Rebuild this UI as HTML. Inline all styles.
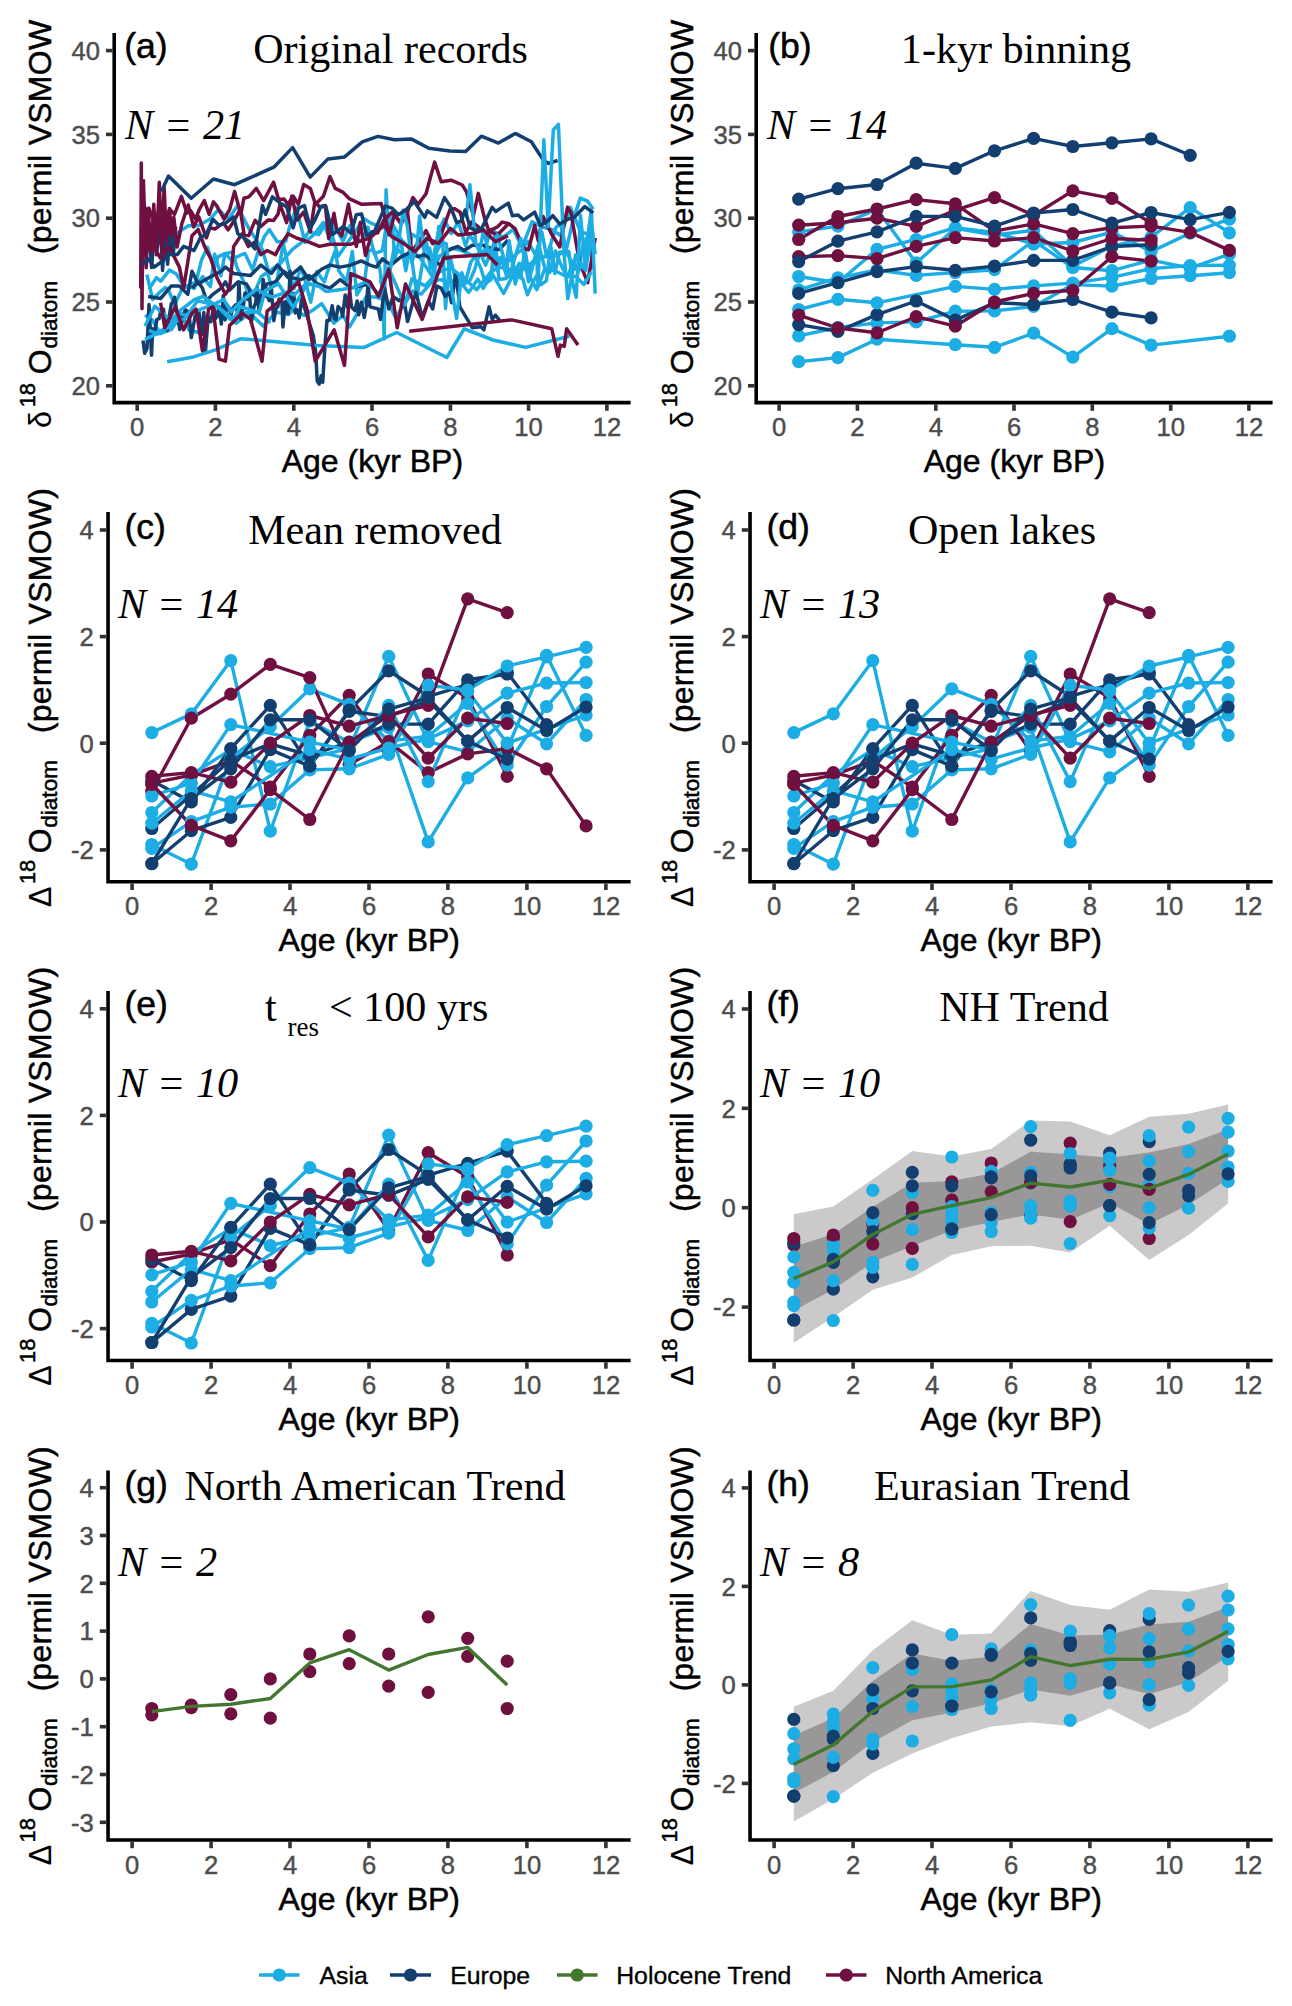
<!DOCTYPE html>
<html><head><meta charset="utf-8"><title>Diatom oxygen isotope records</title>
<style>
html,body{margin:0;padding:0;background:#fff}
svg{display:block}
.tk{font-family:"Liberation Sans", Arial, Helvetica, sans-serif;font-size:25.6px;fill:#4d4d4d;stroke:#4d4d4d;stroke-width:0.45px}
.at{font-family:"Liberation Sans", Arial, Helvetica, sans-serif;font-size:32px;fill:#000;stroke:#000;stroke-width:0.5px}
.ss{font-size:22.6px}
.sy{stroke-width:0.1px;font-size:30.5px}
.sp{font-size:21.8px}
.lb{font-family:"Liberation Sans", Arial, Helvetica, sans-serif;font-size:35.6px;fill:#000;stroke:#000;stroke-width:0.5px}
.tt{font-family:"Liberation Serif", "Times New Roman", serif;font-size:42.1px;fill:#000}
.nn{font-family:"Liberation Serif", "Times New Roman", serif;font-size:42.3px;font-style:italic;fill:#000}
.lg{font-family:"Liberation Sans", Arial, Helvetica, sans-serif;font-size:24.8px;fill:#000;stroke:#000;stroke-width:0.35px}
</style></head><body>
<svg width="1292" height="2006" viewBox="0 0 1292 2006">
<rect width="1292" height="2006" fill="#fff"/>
<polyline points="148.9,244.3 161.0,233.2 167.2,231.7 176.6,233.3 188.5,225.8 198.1,225.8 209.7,219.3 218.4,209.6 228.5,219.0 237.5,205.7 248.4,227.8 262.4,249.6 268.7,271.8 281.5,262.1 292.4,249.3 302.2,241.9 308.8,231.7 318.6,234.7 328.0,220.1 338.1,256.3 349.1,240.6 363.9,218.6 370.3,222.8 382.7,227.9 391.1,221.7 401.4,239.8 414.1,252.7 419.3,256.6 431.5,275.2 439.7,255.9 452.1,248.3 460.8,250.2 472.3,255.4 483.1,253.2 491.5,229.7 503.1,237.2 513.3,229.4 522.1,247.1 532.1,221.7 542.1,227.0 552.3,229.6 560.5,235.5 570.4,207.4 580.7,232.1 593.2,235.2" fill="none" stroke="#1CADE4" stroke-width="3.5" stroke-linejoin="round" stroke-linecap="butt"/>
<polyline points="146.9,274.7 152.7,299.6 159.2,292.8 165.2,287.6 168.0,289.0 174.7,304.8 182.5,287.6 186.8,287.3 191.8,283.2 198.2,282.6 202.8,276.7 210.4,286.5 214.6,253.9 220.9,275.8 224.9,253.9 232.7,251.9 236.9,267.3 244.9,284.0 248.8,296.3 255.7,289.9 261.4,276.4 267.5,272.2 270.6,283.8 277.0,281.1 283.2,243.2 289.5,271.3 293.9,288.6 301.0,267.1 306.5,285.3 310.7,302.2 316.8,271.6 324.3,282.0 327.4,272.1 335.2,251.0 338.7,270.7 346.6,281.2 352.3,251.5 356.9,294.9 364.5,282.2 368.4,251.4 373.2,249.0 379.9,269.0 382.6,293.6 384.2,338.9 386.1,189.7 388.5,235.0 391.6,214.8 394.8,258.4 397.5,249.2 403.6,255.2 407.3,258.1 410.9,252.8 416.9,296.1 422.6,262.8 425.9,238.3 430.5,269.1 437.2,250.8 442.6,240.1 445.5,308.5 450.0,256.9 456.5,283.3 461.9,272.8 465.2,283.0 470.8,262.0 475.4,256.3 481.1,268.9 485.5,283.7 491.0,279.7 494.8,236.0 499.0,279.6 506.2,278.6 508.9,244.2 515.7,275.2 520.6,277.9 524.9,249.3 528.7,272.5 533.3,262.8 539.8,249.1 545.6,270.8 549.7,272.6 555.4,251.0 560.0,262.4 563.1,269.3 567.8,276.9 573.2,261.2 578.6,271.6 582.9,245.0 588.4,234.9 593.2,269.3" fill="none" stroke="#1CADE4" stroke-width="3.5" stroke-linejoin="round" stroke-linecap="butt"/>
<polyline points="143.0,228.3 148.9,208.1 154.8,224.9 160.6,203.1 164.6,221.6 169.6,209.3 174.5,214.3 181.4,196.4 186.9,213.0 190.6,210.7 195.6,219.2 199.3,209.3 204.3,200.6 209.2,214.3 213.5,201.9 216.6,205.6 224.1,219.2 229.7,209.3 234.6,191.4 240.8,214.3 243.9,198.3 248.8,196.9 256.3,188.4 263.7,200.6 273.6,182.2 278.6,199.4 284.0,198.9 287.9,204.3 293.2,196.2 298.4,204.3 303.7,184.5 310.3,188.4 315.5,204.3 323.4,196.2 330.0,176.6 335.2,188.4 343.2,192.4 349.7,198.9 361.6,204.3 381.3,203.6 385.3,218.7 391.9,212.2 401.1,222.6 406.3,214.7 412.9,197.6 418.2,204.3 426.0,193.7 434.6,162.1 441.2,181.8 451.1,180.2 462.3,185.0 466.5,191.9 473.4,215.7 478.3,193.4 484.6,218.4 488.8,230.9 497.3,235.0 509.1,223.2" fill="none" stroke="#6F1041" stroke-width="3.5" stroke-linejoin="round" stroke-linecap="butt"/>
<polyline points="148.9,289.2 156.4,277.7 160.8,281.1 169.4,270.1 176.4,274.1 182.9,284.7 187.4,285.8 194.4,288.4 201.4,260.4 207.4,247.2 214.1,267.8 218.0,256.8 225.4,253.3 231.0,259.8 240.4,255.2 245.0,253.5 252.6,269.7 257.5,253.8 264.2,236.8 269.4,229.6 277.2,241.7 285.8,241.2 289.5,227.3 296.3,207.5 305.0,242.4 308.1,239.5 314.7,233.9 323.3,222.6 330.6,241.2 333.8,225.0 343.0,241.1 349.7,225.9 353.4,237.5 362.0,241.1 367.9,227.0 374.2,253.8 382.4,250.6 385.3,232.5 392.7,233.7 400.8,240.7 405.8,270.8 412.1,234.3 420.1,239.0 427.4,247.6 431.3,267.7 438.5,231.6 444.2,219.1 451.1,233.6 458.4,221.9 465.5,245.7 469.3,234.4 478.0,247.9 484.0,256.1 488.8,248.3 495.1,257.8 502.1,258.4 508.2,261.1 517.6,252.9 523.1,248.8 527.9,241.3 535.5,254.9 541.9,232.3 546.6,256.9 555.9,227.5 560.7,223.9 566.2,250.4 572.8,221.1 580.3,198.1 587.6,201.2 593.2,209.3" fill="none" stroke="#1CADE4" stroke-width="3.5" stroke-linejoin="round" stroke-linecap="butt"/>
<polyline points="141.1,229.4 144.7,253.6 148.5,222.7 151.6,267.6 154.6,227.5 156.9,250.4 160.3,223.9 162.6,270.5 165.1,224.5 167.6,264.2 170.7,219.9 173.2,255.5 175.7,226.7" fill="none" stroke="#123F6F" stroke-width="3.5" stroke-linejoin="round" stroke-linecap="butt"/>
<polyline points="143.4,179.3 146.2,267.8 148.2,210.0 151.2,252.0 153.8,204.3 156.4,254.8 159.3,182.3 161.9,250.9 164.1,187.2 166.6,242.1 169.5,208.5 171.5,235.7 173.8,217.1 177.1,247.1 181.9,223.5 188.2,205.0 193.6,226.9 198.8,216.8 206.3,237.8 209.8,227.8 214.9,229.0 223.4,222.9 228.1,229.8 233.2,222.3 240.2,209.5 244.1,234.3 248.7,235.7 255.2,220.2 260.2,226.8 268.3,219.9 273.6,220.5 278.1,214.0 280.0,204.3 286.6,222.6 291.8,196.2 297.1,220.0 303.7,212.2 310.3,231.8 314.9,201.6 319.5,206.8 325.4,205.5 328.7,238.5 334.0,213.3 336.6,229.3 341.8,235.8 348.4,204.3 351.1,218.7 356.3,246.4 360.3,222.6 365.5,255.6 372.1,231.8 377.4,233.1 385.3,217.4 389.2,234.5 394.5,214.7 401.1,223.9 407.6,212.2 411.6,251.6 419.5,241.0 426.0,230.6 432.6,243.7 439.2,239.8 450.0,209.5 454.3,208.6 460.2,212.2 465.8,232.3 471.7,221.9 477.9,226.4 485.8,235.4 489.5,230.6 497.3,227.0 502.3,222.1 509.1,223.8 515.2,228.9 523.6,248.4 528.5,249.7 534.7,225.4 538.2,240.7 543.1,216.4 551.4,233.8 559.8,247.0 567.5,207.3 571.0,212.8 579.3,261.6 587.7,282.6 595.3,238.0" fill="none" stroke="#6F1041" stroke-width="3.5" stroke-linejoin="round" stroke-linecap="butt"/>
<polyline points="140.7,288.6 141.3,162.9 142.0,308.7 143.0,201.4 144.2,248.4 145.4,208.1 146.9,253.4" fill="none" stroke="#6F1041" stroke-width="3.5" stroke-linejoin="round" stroke-linecap="butt"/>
<polyline points="148.1,296.5 160.6,298.5 171.1,286.1 179.4,286.1 187.8,294.3 192.0,271.3 198.2,283.9 208.7,277.7 221.2,271.3 225.4,267.1 233.7,273.5 250.5,275.5 260.9,265.1 271.4,273.5 277.6,265.1 288.1,277.7 300.6,267.1 309.0,279.7 321.5,269.3 329.9,265.1 340.3,267.1 350.8,265.1 361.2,260.9 370.0,265.1 376.3,267.1 382.5,258.8 390.9,265.1 401.3,256.7 409.7,252.6 418.1,256.7 424.4,254.6 432.7,260.9 441.1,265.1 447.3,250.5 457.8,246.4 464.1,250.5 472.4,245.2 482.8,245.2 491.2,248.4 499.6,249.4 507.9,240.0" fill="none" stroke="#123F6F" stroke-width="3.5" stroke-linejoin="round" stroke-linecap="butt"/>
<polyline points="161.4,191.4 168.5,176.0 191.2,198.3 213.5,179.0 234.6,184.7 273.8,167.2 292.6,147.6 310.2,177.1 328.0,158.9 344.6,156.9 362.3,141.8 377.9,136.4 394.4,139.8 411.6,139.1 428.8,148.3 450.0,151.0 465.6,151.5 481.3,136.2 498.5,143.1 515.3,133.4 531.4,141.8 543.1,159.9 548.6,163.4 557.6,160.5" fill="none" stroke="#123F6F" stroke-width="3.5" stroke-linejoin="round" stroke-linecap="butt"/>
<polyline points="466.0,218.2 469.9,184.7 475.8,243.3 485.6,265.1 497.3,235.0 509.1,276.9 520.8,238.3 528.6,281.9 536.5,251.7 538.0,285.2 543.9,139.8 548.2,226.6 553.3,130.0 558.4,124.3 563.9,251.7 567.8,298.6 575.6,255.1 583.5,268.5 591.3,209.8 595.2,293.6" fill="none" stroke="#1CADE4" stroke-width="3.5" stroke-linejoin="round" stroke-linecap="butt"/>
<polyline points="145.0,315.1 152.3,320.0 160.3,333.6 171.6,329.3 181.8,314.1 189.2,330.2 198.5,332.5 204.9,318.3 216.3,316.6 227.6,316.3 236.1,323.3 244.4,317.1 250.1,313.5 263.1,326.1 271.8,316.8 277.1,312.2 288.5,314.6 294.2,308.5 303.7,315.4 313.6,309.7 321.7,303.6 333.8,323.2 343.0,315.5 349.5,326.9 358.3,311.8 366.1,296.8 374.9,296.9 387.1,300.5 395.4,317.3 401.5,308.8 412.7,291.0 421.2,294.1 432.4,281.3 440.7,279.6 449.0,282.7 457.7,278.7 468.6,292.4 477.8,279.3 483.3,288.3 491.8,272.8 503.6,293.5 508.7,283.4 519.2,263.4 526.6,270.9 536.8,289.6 544.4,269.9 554.5,270.5 566.0,276.3 575.5,276.2 583.9,284.5 591.3,272.2" fill="none" stroke="#1CADE4" stroke-width="3.5" stroke-linejoin="round" stroke-linecap="butt"/>
<polyline points="143.0,340.4 144.7,353.2 147.0,348.5 149.0,304.5 151.5,355.2 152.7,328.8 154.9,331.2 156.8,319.6 159.3,318.5 160.8,310.0 163.5,309.3 164.5,317.0 167.2,330.4 169.5,315.0 171.4,303.4 172.8,302.8 174.6,297.2 177.5,315.5 179.7,329.6 181.4,323.8 182.9,315.7 185.5,309.8 187.4,311.4 189.1,314.4 191.3,337.6 193.1,327.5 195.3,315.4 197.5,317.5 198.8,310.9 201.7,334.7 203.8,312.4 205.4,351.8 207.6,324.5 208.7,317.6 210.9,321.7 213.7,306.3 215.6,318.4 217.3,315.0 218.9,306.5 221.3,324.1 223.3,295.4 225.1,319.9 226.8,304.6 229.3,308.3 230.9,315.2 232.8,308.3 235.6,304.9 237.8,313.5 238.9,281.9 240.9,319.1 243.3,306.6 245.0,292.9 247.7,299.5 249.5,292.3 251.3,322.5 254.0,306.6 255.7,302.9 257.1,288.3 259.0,312.2 261.5,302.6 263.2,279.4 265.9,296.3 267.0,295.4 269.2,300.7 271.1,285.5 273.8,320.7 275.9,308.8 277.8,306.6 279.1,299.0 281.9,301.5 282.9,326.9 285.4,301.4 288.1,313.8 290.1,271.3 291.0,308.0 293.8,293.4 295.2,312.9 297.6,310.1 299.3,317.9 301.6,298.8 313.3,335.5 315.7,352.3 317.2,380.8 319.2,384.1 321.2,375.7 322.7,382.4 325.1,343.9 327.0,320.5 329.3,320.4 332.2,305.8 334.2,318.2 335.9,319.7 338.1,306.5 341.0,309.2 342.6,316.4 345.2,295.0 347.7,307.5 349.8,291.7 351.5,306.9 354.9,310.7 357.2,301.0 358.7,314.8 361.4,302.3 364.2,317.5 366.3,306.5 368.1,283.0 370.0,306.9 378.4,309.0 380.5,319.4 384.6,288.1 388.8,309.0 393.0,296.5 399.3,300.7 403.4,296.5 407.6,321.6 413.9,298.5 416.0,292.3 422.2,317.4 428.5,300.7 432.7,309.0 436.9,286.1 441.1,288.1 445.2,296.5 449.4,292.3 451.5,302.7 453.6,288.1 455.7,273.5 459.9,306.9 472.4,327.8 480.8,326.8 483.9,329.8 489.1,306.9 492.2,319.4 495.4,315.2 500.6,321.6" fill="none" stroke="#123F6F" stroke-width="3.5" stroke-linejoin="round" stroke-linecap="butt"/>
<polyline points="192.0,288.1 198.2,281.9 202.4,288.1 206.6,300.7 212.9,294.3 221.2,288.1 225.4,281.9 229.6,290.1 237.9,281.9 246.3,283.9 252.6,294.3 258.8,298.5 267.2,283.9 275.5,281.9 283.9,271.3 292.3,277.7 300.6,279.7 309.0,275.5 317.4,283.9 329.9,288.1 340.3,279.7 350.8,288.1 370.0,283.9" fill="none" stroke="#123F6F" stroke-width="3.5" stroke-linejoin="round" stroke-linecap="butt"/>
<polyline points="145.0,326.1 154.8,306.2 171.2,320.5 180.2,310.4 194.4,299.7 203.0,296.3 221.7,309.8 233.8,319.6 240.0,306.5 258.8,312.5 265.3,290.6 278.6,283.8 293.2,307.5 307.9,283.1 319.5,286.5 325.8,291.4 341.7,289.5 354.3,287.3 366.1,281.7 380.4,295.2 388.4,267.7 404.9,305.0 412.0,278.8 425.1,285.9 437.2,272.7 450.9,267.8 465.7,279.8 476.6,289.7 491.3,271.4 499.9,267.4 515.3,270.7 527.4,266.4 537.0,258.2 549.3,255.7 566.2,252.2 576.0,269.3 587.4,263.8" fill="none" stroke="#1CADE4" stroke-width="3.5" stroke-linejoin="round" stroke-linecap="butt"/>
<polyline points="148.9,330.3 157.8,333.9 170.1,326.1 180.8,313.7 188.3,316.3 200.7,309.2 210.4,305.8 223.7,299.5 231.1,311.9 241.1,301.4 256.7,288.9 265.0,294.4 272.7,296.8 287.0,292.0 294.2,294.9 305.3,284.2 317.2,284.9" fill="none" stroke="#1CADE4" stroke-width="3.5" stroke-linejoin="round" stroke-linecap="butt"/>
<polyline points="145.0,339.3 157.5,333.3 173.0,322.4 184.6,318.7 197.6,300.8 216.6,305.3 229.6,318.9 243.4,313.1 256.9,311.7 270.3,322.8" fill="none" stroke="#1CADE4" stroke-width="3.5" stroke-linejoin="round" stroke-linecap="butt"/>
<polyline points="379.9,283.1 384.8,275.2 388.9,276.8 394.3,247.1 397.0,252.6 403.2,209.9 407.4,226.1 411.7,262.4 417.0,245.9 419.6,216.1 423.5,248.9 429.6,248.0 434.6,272.8 438.8,226.4 441.4,243.1 446.2,243.6 451.1,286.1 456.6,318.4 461.6,273.8 464.3,283.9 470.0,280.4 474.6,269.8 478.2,257.7 483.8,229.8 488.4,252.6 491.2,252.0 497.7,271.0 500.9,257.4 505.9,273.8 509.2,240.8 515.3,284.1 518.5,271.1 522.9,279.4 527.4,294.7 533.2,281.7 537.0,275.0 540.6,284.8 546.4,280.9 550.7,246.1 554.9,273.5 559.5,251.9 562.5,252.0 568.8,251.4 572.9,284.0 576.2,297.4 580.5,215.4 585.7,270.6 592.0,226.8 595.2,254.2" fill="none" stroke="#1CADE4" stroke-width="3.5" stroke-linejoin="round" stroke-linecap="butt"/>
<polyline points="167.1,361.7 192.0,357.3 215.4,349.8 236.6,340.5 241.3,338.7 317.2,345.6 364.2,347.4 396.7,332.5 446.8,357.5 464.2,328.8 493.0,340.0 525.5,347.4 569.4,336.2" fill="none" stroke="#1CADE4" stroke-width="3.5" stroke-linejoin="round" stroke-linecap="butt"/>
<polyline points="143.0,253.4 152.8,245.0 160.6,258.4 169.0,246.4 179.4,267.1 183.6,288.1 192.0,235.8 198.2,229.6 204.5,246.4 210.8,258.8 217.0,277.7 225.4,294.3 229.6,288.1 233.7,246.4 242.1,233.8 248.4,246.4 254.6,242.2 260.9,254.6 267.2,250.5 275.5,254.6 279.7,246.4 288.1,233.8 296.5,238.0 309.0,242.2 319.4,246.4 329.9,244.2 350.8,244.2 370.0,238.0 383.8,224.9 391.6,236.6 403.4,243.3 415.1,251.7 426.9,238.3 438.6,243.3 450.4,228.3 458.2,235.0 473.8,233.3 483.6,229.9 495.4,241.7 507.9,235.8" fill="none" stroke="#6F1041" stroke-width="3.5" stroke-linejoin="round" stroke-linecap="butt"/>
<polyline points="160.6,302.7 164.8,327.8 175.2,306.9 183.6,329.8 192.0,313.2 196.1,309.0 202.4,350.8 208.7,309.0 212.9,306.9 219.1,359.2 225.4,361.2 229.6,325.6 242.1,313.2 250.5,319.4 262.0,361.2 267.2,311.1 277.6,302.7 298.5,281.9 306.9,309.0 315.2,361.2 334.1,329.8 344.5,365.4 350.8,273.5 370.0,281.9 378.4,296.5 388.8,269.3 397.2,327.8 405.5,283.9 422.2,319.4 443.1,258.8 453.6,256.7 470.3,255.7 487.0,254.6 497.5,265.1" fill="none" stroke="#6F1041" stroke-width="3.5" stroke-linejoin="round" stroke-linecap="butt"/>
<polyline points="409.2,331.3 511.8,319.9 551.7,328.8 558.0,356.3 560.4,345.1 564.3,346.2 566.6,328.8 578.0,345.1" fill="none" stroke="#6F1041" stroke-width="3.5" stroke-linejoin="round" stroke-linecap="butt"/>
<polyline points="141.8,265.1 148.1,258.8 154.3,267.1 162.7,260.9 169.0,254.6 177.3,254.6 183.6,246.4 194.0,250.5 200.3,238.0 206.6,233.8 212.9,219.2 219.1,225.4 225.4,223.2 233.7,217.0 237.9,233.8 243.9,237.8 248.8,241.5 255.0,249.0 262.5,205.6 265.6,214.3 272.4,196.9 280.0,202.9 286.6,206.8 293.2,227.9 298.4,208.1 304.4,205.5 310.3,227.9 314.9,220.0 320.8,206.8 326.0,206.8 332.6,234.5 343.2,226.6 351.1,233.1 356.3,214.7 361.6,214.0 366.8,235.8 374.8,230.6 385.3,206.1 391.9,208.1 398.4,214.7 406.3,209.5 414.2,201.6 424.7,217.4 427.4,210.8 436.6,217.4 444.5,197.6 450.4,206.5 456.7,222.6 460.9,221.2 465.1,210.0 470.0,227.4 474.8,230.3 481.8,228.1 487.4,217.0 492.2,207.3 495.7,211.5 499.9,208.6 508.3,203.1 512.4,215.7 518.0,215.0 523.6,219.9 534.7,212.2 540.3,225.4 547.3,221.2 552.8,215.7 559.8,224.1 568.2,219.0 573.8,217.7 584.9,206.6 593.2,212.8" fill="none" stroke="#123F6F" stroke-width="3.5" stroke-linejoin="round" stroke-linecap="butt"/>
<polyline points="798.7,231.9 837.9,226.1 877.0,209.3 916.2,262.9 955.3,228.3 994.5,235.0 1033.6,230.3 1072.8,266.3 1111.9,246.2 1151.1,237.1 1190.2,207.6 1229.4,232.8" fill="none" stroke="#1CADE4" stroke-width="3.4" stroke-linejoin="round" stroke-linecap="butt"/>
<polyline points="798.7,289.8 837.9,277.9 877.0,270.0 916.2,275.4 955.3,272.5 994.5,269.7 1033.6,240.7 1072.8,267.5 1111.9,270.7 1151.1,260.1 1190.2,268.1 1229.4,254.2" fill="none" stroke="#1CADE4" stroke-width="3.4" stroke-linejoin="round" stroke-linecap="butt"/>
<polyline points="798.7,225.2 837.9,222.7 877.0,218.2 916.2,226.4 955.3,210.2 994.5,197.6 1033.6,215.2 1072.8,190.9 1111.9,198.4 1151.1,223.1" fill="none" stroke="#6F1041" stroke-width="3.4" stroke-linejoin="round" stroke-linecap="butt"/>
<polyline points="798.7,276.5 837.9,282.7 877.0,249.4 916.2,239.5 955.3,227.6 994.5,232.4 1033.6,244.0 1072.8,242.5 1111.9,232.1 1151.1,251.6 1190.2,233.1 1229.4,219.2" fill="none" stroke="#1CADE4" stroke-width="3.4" stroke-linejoin="round" stroke-linecap="butt"/>
<polyline points="798.7,239.5 837.9,216.5 877.0,209.0 916.2,199.6 955.3,203.8 994.5,231.1 1033.6,223.9 1072.8,233.6 1111.9,227.8 1151.1,226.1 1190.2,232.4 1229.4,250.4" fill="none" stroke="#6F1041" stroke-width="3.4" stroke-linejoin="round" stroke-linecap="butt"/>
<polyline points="798.7,293.3 837.9,282.7 877.0,271.7 916.2,266.6 955.3,270.3 994.5,266.1 1033.6,260.4 1072.8,260.4 1111.9,246.5 1151.1,244.7" fill="none" stroke="#123F6F" stroke-width="3.4" stroke-linejoin="round" stroke-linecap="butt"/>
<polyline points="798.7,199.1 837.9,188.7 877.0,184.5 916.2,163.2 955.3,168.4 994.5,150.8 1033.6,138.4 1072.8,146.5 1111.9,142.8 1151.1,138.9 1190.2,155.3" fill="none" stroke="#123F6F" stroke-width="3.4" stroke-linejoin="round" stroke-linecap="butt"/>
<polyline points="798.7,335.9 837.9,327.5 877.0,322.9 916.2,321.9 955.3,311.2 994.5,310.9 1033.6,306.4 1072.8,284.6 1111.9,286.1 1151.1,278.5 1190.2,275.7 1229.4,272.7" fill="none" stroke="#1CADE4" stroke-width="3.4" stroke-linejoin="round" stroke-linecap="butt"/>
<polyline points="798.7,324.6 837.9,331.3 877.0,314.6 916.2,301.0 955.3,320.1 994.5,302.8 1033.6,304.5 1072.8,299.5 1111.9,312.2 1151.1,317.9" fill="none" stroke="#123F6F" stroke-width="3.4" stroke-linejoin="round" stroke-linecap="butt"/>
<polyline points="798.7,309.5 837.9,299.3 877.0,302.8 955.3,286.4 994.5,289.4 1033.6,285.9 1072.8,283.1 1111.9,277.4 1151.1,268.6 1190.2,265.5 1229.4,265.3" fill="none" stroke="#1CADE4" stroke-width="3.4" stroke-linejoin="round" stroke-linecap="butt"/>
<polyline points="798.7,361.7 837.9,357.6 877.0,339.2 955.3,344.7 994.5,347.3 1033.6,333.2 1072.8,357.1 1111.9,328.6 1151.1,345.1 1229.4,336.2" fill="none" stroke="#1CADE4" stroke-width="3.4" stroke-linejoin="round" stroke-linecap="butt"/>
<polyline points="798.7,256.7 837.9,255.6 877.0,258.6 916.2,246.4 955.3,237.6 994.5,241.0 1033.6,237.6 1072.8,251.0 1111.9,238.5 1151.1,240.2" fill="none" stroke="#6F1041" stroke-width="3.4" stroke-linejoin="round" stroke-linecap="butt"/>
<polyline points="798.7,315.1 837.9,328.0 877.0,332.8 916.2,316.7 955.3,326.1 994.5,302.0 1033.6,293.3 1072.8,290.3 1111.9,256.7 1151.1,261.1" fill="none" stroke="#6F1041" stroke-width="3.4" stroke-linejoin="round" stroke-linecap="butt"/>
<polyline points="798.7,261.6 837.9,241.2 877.0,231.8 916.2,216.4 955.3,216.4 994.5,226.1 1033.6,213.0 1072.8,209.5 1111.9,223.1 1151.1,212.5 1190.2,219.7 1229.4,212.3" fill="none" stroke="#123F6F" stroke-width="3.4" stroke-linejoin="round" stroke-linecap="butt"/>
<circle cx="798.7" cy="231.9" r="6.6" fill="#1CADE4"/>
<circle cx="837.9" cy="226.1" r="6.6" fill="#1CADE4"/>
<circle cx="877.0" cy="209.3" r="6.6" fill="#1CADE4"/>
<circle cx="916.2" cy="262.9" r="6.6" fill="#1CADE4"/>
<circle cx="955.3" cy="228.3" r="6.6" fill="#1CADE4"/>
<circle cx="994.5" cy="235.0" r="6.6" fill="#1CADE4"/>
<circle cx="1033.6" cy="230.3" r="6.6" fill="#1CADE4"/>
<circle cx="1072.8" cy="266.3" r="6.6" fill="#1CADE4"/>
<circle cx="1111.9" cy="246.2" r="6.6" fill="#1CADE4"/>
<circle cx="1151.1" cy="237.1" r="6.6" fill="#1CADE4"/>
<circle cx="1190.2" cy="207.6" r="6.6" fill="#1CADE4"/>
<circle cx="1229.4" cy="232.8" r="6.6" fill="#1CADE4"/>
<circle cx="798.7" cy="289.8" r="6.6" fill="#1CADE4"/>
<circle cx="837.9" cy="277.9" r="6.6" fill="#1CADE4"/>
<circle cx="877.0" cy="270.0" r="6.6" fill="#1CADE4"/>
<circle cx="916.2" cy="275.4" r="6.6" fill="#1CADE4"/>
<circle cx="955.3" cy="272.5" r="6.6" fill="#1CADE4"/>
<circle cx="994.5" cy="269.7" r="6.6" fill="#1CADE4"/>
<circle cx="1033.6" cy="240.7" r="6.6" fill="#1CADE4"/>
<circle cx="1072.8" cy="267.5" r="6.6" fill="#1CADE4"/>
<circle cx="1111.9" cy="270.7" r="6.6" fill="#1CADE4"/>
<circle cx="1151.1" cy="260.1" r="6.6" fill="#1CADE4"/>
<circle cx="1190.2" cy="268.1" r="6.6" fill="#1CADE4"/>
<circle cx="1229.4" cy="254.2" r="6.6" fill="#1CADE4"/>
<circle cx="798.7" cy="225.2" r="6.6" fill="#6F1041"/>
<circle cx="837.9" cy="222.7" r="6.6" fill="#6F1041"/>
<circle cx="877.0" cy="218.2" r="6.6" fill="#6F1041"/>
<circle cx="916.2" cy="226.4" r="6.6" fill="#6F1041"/>
<circle cx="955.3" cy="210.2" r="6.6" fill="#6F1041"/>
<circle cx="994.5" cy="197.6" r="6.6" fill="#6F1041"/>
<circle cx="1033.6" cy="215.2" r="6.6" fill="#6F1041"/>
<circle cx="1072.8" cy="190.9" r="6.6" fill="#6F1041"/>
<circle cx="1111.9" cy="198.4" r="6.6" fill="#6F1041"/>
<circle cx="1151.1" cy="223.1" r="6.6" fill="#6F1041"/>
<circle cx="798.7" cy="276.5" r="6.6" fill="#1CADE4"/>
<circle cx="837.9" cy="282.7" r="6.6" fill="#1CADE4"/>
<circle cx="877.0" cy="249.4" r="6.6" fill="#1CADE4"/>
<circle cx="916.2" cy="239.5" r="6.6" fill="#1CADE4"/>
<circle cx="955.3" cy="227.6" r="6.6" fill="#1CADE4"/>
<circle cx="994.5" cy="232.4" r="6.6" fill="#1CADE4"/>
<circle cx="1033.6" cy="244.0" r="6.6" fill="#1CADE4"/>
<circle cx="1072.8" cy="242.5" r="6.6" fill="#1CADE4"/>
<circle cx="1111.9" cy="232.1" r="6.6" fill="#1CADE4"/>
<circle cx="1151.1" cy="251.6" r="6.6" fill="#1CADE4"/>
<circle cx="1190.2" cy="233.1" r="6.6" fill="#1CADE4"/>
<circle cx="1229.4" cy="219.2" r="6.6" fill="#1CADE4"/>
<circle cx="798.7" cy="239.5" r="6.6" fill="#6F1041"/>
<circle cx="837.9" cy="216.5" r="6.6" fill="#6F1041"/>
<circle cx="877.0" cy="209.0" r="6.6" fill="#6F1041"/>
<circle cx="916.2" cy="199.6" r="6.6" fill="#6F1041"/>
<circle cx="955.3" cy="203.8" r="6.6" fill="#6F1041"/>
<circle cx="994.5" cy="231.1" r="6.6" fill="#6F1041"/>
<circle cx="1033.6" cy="223.9" r="6.6" fill="#6F1041"/>
<circle cx="1072.8" cy="233.6" r="6.6" fill="#6F1041"/>
<circle cx="1111.9" cy="227.8" r="6.6" fill="#6F1041"/>
<circle cx="1151.1" cy="226.1" r="6.6" fill="#6F1041"/>
<circle cx="1190.2" cy="232.4" r="6.6" fill="#6F1041"/>
<circle cx="1229.4" cy="250.4" r="6.6" fill="#6F1041"/>
<circle cx="798.7" cy="293.3" r="6.6" fill="#123F6F"/>
<circle cx="837.9" cy="282.7" r="6.6" fill="#123F6F"/>
<circle cx="877.0" cy="271.7" r="6.6" fill="#123F6F"/>
<circle cx="916.2" cy="266.6" r="6.6" fill="#123F6F"/>
<circle cx="955.3" cy="270.3" r="6.6" fill="#123F6F"/>
<circle cx="994.5" cy="266.1" r="6.6" fill="#123F6F"/>
<circle cx="1033.6" cy="260.4" r="6.6" fill="#123F6F"/>
<circle cx="1072.8" cy="260.4" r="6.6" fill="#123F6F"/>
<circle cx="1111.9" cy="246.5" r="6.6" fill="#123F6F"/>
<circle cx="1151.1" cy="244.7" r="6.6" fill="#123F6F"/>
<circle cx="798.7" cy="199.1" r="6.6" fill="#123F6F"/>
<circle cx="837.9" cy="188.7" r="6.6" fill="#123F6F"/>
<circle cx="877.0" cy="184.5" r="6.6" fill="#123F6F"/>
<circle cx="916.2" cy="163.2" r="6.6" fill="#123F6F"/>
<circle cx="955.3" cy="168.4" r="6.6" fill="#123F6F"/>
<circle cx="994.5" cy="150.8" r="6.6" fill="#123F6F"/>
<circle cx="1033.6" cy="138.4" r="6.6" fill="#123F6F"/>
<circle cx="1072.8" cy="146.5" r="6.6" fill="#123F6F"/>
<circle cx="1111.9" cy="142.8" r="6.6" fill="#123F6F"/>
<circle cx="1151.1" cy="138.9" r="6.6" fill="#123F6F"/>
<circle cx="1190.2" cy="155.3" r="6.6" fill="#123F6F"/>
<circle cx="798.7" cy="335.9" r="6.6" fill="#1CADE4"/>
<circle cx="837.9" cy="327.5" r="6.6" fill="#1CADE4"/>
<circle cx="877.0" cy="322.9" r="6.6" fill="#1CADE4"/>
<circle cx="916.2" cy="321.9" r="6.6" fill="#1CADE4"/>
<circle cx="955.3" cy="311.2" r="6.6" fill="#1CADE4"/>
<circle cx="994.5" cy="310.9" r="6.6" fill="#1CADE4"/>
<circle cx="1033.6" cy="306.4" r="6.6" fill="#1CADE4"/>
<circle cx="1072.8" cy="284.6" r="6.6" fill="#1CADE4"/>
<circle cx="1111.9" cy="286.1" r="6.6" fill="#1CADE4"/>
<circle cx="1151.1" cy="278.5" r="6.6" fill="#1CADE4"/>
<circle cx="1190.2" cy="275.7" r="6.6" fill="#1CADE4"/>
<circle cx="1229.4" cy="272.7" r="6.6" fill="#1CADE4"/>
<circle cx="798.7" cy="324.6" r="6.6" fill="#123F6F"/>
<circle cx="837.9" cy="331.3" r="6.6" fill="#123F6F"/>
<circle cx="877.0" cy="314.6" r="6.6" fill="#123F6F"/>
<circle cx="916.2" cy="301.0" r="6.6" fill="#123F6F"/>
<circle cx="955.3" cy="320.1" r="6.6" fill="#123F6F"/>
<circle cx="994.5" cy="302.8" r="6.6" fill="#123F6F"/>
<circle cx="1033.6" cy="304.5" r="6.6" fill="#123F6F"/>
<circle cx="1072.8" cy="299.5" r="6.6" fill="#123F6F"/>
<circle cx="1111.9" cy="312.2" r="6.6" fill="#123F6F"/>
<circle cx="1151.1" cy="317.9" r="6.6" fill="#123F6F"/>
<circle cx="798.7" cy="309.5" r="6.6" fill="#1CADE4"/>
<circle cx="837.9" cy="299.3" r="6.6" fill="#1CADE4"/>
<circle cx="877.0" cy="302.8" r="6.6" fill="#1CADE4"/>
<circle cx="955.3" cy="286.4" r="6.6" fill="#1CADE4"/>
<circle cx="994.5" cy="289.4" r="6.6" fill="#1CADE4"/>
<circle cx="1033.6" cy="285.9" r="6.6" fill="#1CADE4"/>
<circle cx="1072.8" cy="283.1" r="6.6" fill="#1CADE4"/>
<circle cx="1111.9" cy="277.4" r="6.6" fill="#1CADE4"/>
<circle cx="1151.1" cy="268.6" r="6.6" fill="#1CADE4"/>
<circle cx="1190.2" cy="265.5" r="6.6" fill="#1CADE4"/>
<circle cx="1229.4" cy="265.3" r="6.6" fill="#1CADE4"/>
<circle cx="798.7" cy="361.7" r="6.6" fill="#1CADE4"/>
<circle cx="837.9" cy="357.6" r="6.6" fill="#1CADE4"/>
<circle cx="877.0" cy="339.2" r="6.6" fill="#1CADE4"/>
<circle cx="955.3" cy="344.7" r="6.6" fill="#1CADE4"/>
<circle cx="994.5" cy="347.3" r="6.6" fill="#1CADE4"/>
<circle cx="1033.6" cy="333.2" r="6.6" fill="#1CADE4"/>
<circle cx="1072.8" cy="357.1" r="6.6" fill="#1CADE4"/>
<circle cx="1111.9" cy="328.6" r="6.6" fill="#1CADE4"/>
<circle cx="1151.1" cy="345.1" r="6.6" fill="#1CADE4"/>
<circle cx="1229.4" cy="336.2" r="6.6" fill="#1CADE4"/>
<circle cx="798.7" cy="256.7" r="6.6" fill="#6F1041"/>
<circle cx="837.9" cy="255.6" r="6.6" fill="#6F1041"/>
<circle cx="877.0" cy="258.6" r="6.6" fill="#6F1041"/>
<circle cx="916.2" cy="246.4" r="6.6" fill="#6F1041"/>
<circle cx="955.3" cy="237.6" r="6.6" fill="#6F1041"/>
<circle cx="994.5" cy="241.0" r="6.6" fill="#6F1041"/>
<circle cx="1033.6" cy="237.6" r="6.6" fill="#6F1041"/>
<circle cx="1072.8" cy="251.0" r="6.6" fill="#6F1041"/>
<circle cx="1111.9" cy="238.5" r="6.6" fill="#6F1041"/>
<circle cx="1151.1" cy="240.2" r="6.6" fill="#6F1041"/>
<circle cx="798.7" cy="315.1" r="6.6" fill="#6F1041"/>
<circle cx="837.9" cy="328.0" r="6.6" fill="#6F1041"/>
<circle cx="877.0" cy="332.8" r="6.6" fill="#6F1041"/>
<circle cx="916.2" cy="316.7" r="6.6" fill="#6F1041"/>
<circle cx="955.3" cy="326.1" r="6.6" fill="#6F1041"/>
<circle cx="994.5" cy="302.0" r="6.6" fill="#6F1041"/>
<circle cx="1033.6" cy="293.3" r="6.6" fill="#6F1041"/>
<circle cx="1072.8" cy="290.3" r="6.6" fill="#6F1041"/>
<circle cx="1111.9" cy="256.7" r="6.6" fill="#6F1041"/>
<circle cx="1151.1" cy="261.1" r="6.6" fill="#6F1041"/>
<circle cx="798.7" cy="261.6" r="6.6" fill="#123F6F"/>
<circle cx="837.9" cy="241.2" r="6.6" fill="#123F6F"/>
<circle cx="877.0" cy="231.8" r="6.6" fill="#123F6F"/>
<circle cx="916.2" cy="216.4" r="6.6" fill="#123F6F"/>
<circle cx="955.3" cy="216.4" r="6.6" fill="#123F6F"/>
<circle cx="994.5" cy="226.1" r="6.6" fill="#123F6F"/>
<circle cx="1033.6" cy="213.0" r="6.6" fill="#123F6F"/>
<circle cx="1072.8" cy="209.5" r="6.6" fill="#123F6F"/>
<circle cx="1111.9" cy="223.1" r="6.6" fill="#123F6F"/>
<circle cx="1151.1" cy="212.5" r="6.6" fill="#123F6F"/>
<circle cx="1190.2" cy="219.7" r="6.6" fill="#123F6F"/>
<circle cx="1229.4" cy="212.3" r="6.6" fill="#123F6F"/>
<polyline points="151.8,732.6 191.3,713.9 230.8,660.6 270.3,831.2 309.8,720.9 349.2,742.2 388.7,727.3 428.2,841.9 467.7,777.9 507.2,749.1 546.6,655.3 586.1,735.3" fill="none" stroke="#1CADE4" stroke-width="3.4" stroke-linejoin="round" stroke-linecap="butt"/>
<polyline points="151.8,812.5 191.3,774.7 230.8,749.6 270.3,766.7 309.8,757.6 349.2,748.6 388.7,656.4 428.2,741.7 467.7,751.8 507.2,718.2 546.6,743.8 586.1,699.5" fill="none" stroke="#1CADE4" stroke-width="3.4" stroke-linejoin="round" stroke-linecap="butt"/>
<polyline points="151.8,783.2 191.3,775.2 230.8,760.8 270.3,787.0 309.8,735.3 349.2,695.3 388.7,751.2 428.2,674.0 467.7,697.9 507.2,776.3" fill="none" stroke="#6F1041" stroke-width="3.4" stroke-linejoin="round" stroke-linecap="butt"/>
<polyline points="151.8,844.5 191.3,864.2 230.8,758.2 270.3,726.7 309.8,688.9 349.2,704.3 388.7,741.1 428.2,736.3 467.7,703.3 507.2,765.1 546.6,706.5 586.1,662.2" fill="none" stroke="#1CADE4" stroke-width="3.4" stroke-linejoin="round" stroke-linecap="butt"/>
<polyline points="151.8,791.2 191.3,718.2 230.8,694.2 270.3,664.4 309.8,677.7 349.2,764.6 388.7,741.7 428.2,772.6 467.7,753.9 507.2,748.6 546.6,768.8 586.1,825.9" fill="none" stroke="#6F1041" stroke-width="3.4" stroke-linejoin="round" stroke-linecap="butt"/>
<polyline points="151.8,828.5 191.3,795.0 230.8,759.8 270.3,743.8 309.8,755.5 349.2,742.2 388.7,724.1 428.2,724.1 467.7,679.8 507.2,674.0" fill="none" stroke="#123F6F" stroke-width="3.4" stroke-linejoin="round" stroke-linecap="butt"/>
<polyline points="151.8,863.7 191.3,830.7 230.8,817.3 270.3,749.6 309.8,766.2 349.2,710.2 388.7,670.8 428.2,696.3 467.7,684.6 507.2,672.4 546.6,724.6" fill="none" stroke="#123F6F" stroke-width="3.4" stroke-linejoin="round" stroke-linecap="butt"/>
<polyline points="151.8,848.3 191.3,821.6 230.8,807.2 270.3,804.0 309.8,769.9 349.2,768.8 388.7,754.4 428.2,685.2 467.7,690.0 507.2,666.0 546.6,656.9 586.1,647.3" fill="none" stroke="#1CADE4" stroke-width="3.4" stroke-linejoin="round" stroke-linecap="butt"/>
<polyline points="151.8,780.6 191.3,801.9 230.8,748.6 270.3,705.4 309.8,766.2 349.2,711.3 388.7,716.6 428.2,700.6 467.7,741.1 507.2,759.2" fill="none" stroke="#123F6F" stroke-width="3.4" stroke-linejoin="round" stroke-linecap="butt"/>
<polyline points="151.8,823.2 191.3,790.7 230.8,801.9 309.8,749.6 349.2,759.2 388.7,748.0 428.2,739.0 467.7,720.9 507.2,693.1 546.6,683.0 586.1,682.5" fill="none" stroke="#1CADE4" stroke-width="3.4" stroke-linejoin="round" stroke-linecap="butt"/>
<polyline points="151.8,796.0 191.3,783.2 230.8,724.6 309.8,742.2 349.2,750.2 388.7,705.4 428.2,781.6 467.7,691.0 507.2,743.2 586.1,715.0" fill="none" stroke="#1CADE4" stroke-width="3.4" stroke-linejoin="round" stroke-linecap="butt"/>
<polyline points="151.8,776.3 191.3,772.6 230.8,782.2 270.3,743.2 309.8,715.5 349.2,726.2 388.7,715.5 428.2,758.2 467.7,718.2 507.2,723.5" fill="none" stroke="#6F1041" stroke-width="3.4" stroke-linejoin="round" stroke-linecap="butt"/>
<polyline points="151.8,784.3 191.3,825.3 230.8,840.8 270.3,789.6 309.8,819.5 349.2,742.7 388.7,715.0 428.2,705.4 467.7,598.8 507.2,612.7" fill="none" stroke="#6F1041" stroke-width="3.4" stroke-linejoin="round" stroke-linecap="butt"/>
<polyline points="151.8,863.7 191.3,798.7 230.8,768.8 270.3,719.8 309.8,719.8 349.2,750.7 388.7,709.1 428.2,697.9 467.7,741.1 507.2,707.5 546.6,730.5 586.1,707.0" fill="none" stroke="#123F6F" stroke-width="3.4" stroke-linejoin="round" stroke-linecap="butt"/>
<circle cx="151.8" cy="732.6" r="6.6" fill="#1CADE4"/>
<circle cx="191.3" cy="713.9" r="6.6" fill="#1CADE4"/>
<circle cx="230.8" cy="660.6" r="6.6" fill="#1CADE4"/>
<circle cx="270.3" cy="831.2" r="6.6" fill="#1CADE4"/>
<circle cx="309.8" cy="720.9" r="6.6" fill="#1CADE4"/>
<circle cx="349.2" cy="742.2" r="6.6" fill="#1CADE4"/>
<circle cx="388.7" cy="727.3" r="6.6" fill="#1CADE4"/>
<circle cx="428.2" cy="841.9" r="6.6" fill="#1CADE4"/>
<circle cx="467.7" cy="777.9" r="6.6" fill="#1CADE4"/>
<circle cx="507.2" cy="749.1" r="6.6" fill="#1CADE4"/>
<circle cx="546.6" cy="655.3" r="6.6" fill="#1CADE4"/>
<circle cx="586.1" cy="735.3" r="6.6" fill="#1CADE4"/>
<circle cx="151.8" cy="812.5" r="6.6" fill="#1CADE4"/>
<circle cx="191.3" cy="774.7" r="6.6" fill="#1CADE4"/>
<circle cx="230.8" cy="749.6" r="6.6" fill="#1CADE4"/>
<circle cx="270.3" cy="766.7" r="6.6" fill="#1CADE4"/>
<circle cx="309.8" cy="757.6" r="6.6" fill="#1CADE4"/>
<circle cx="349.2" cy="748.6" r="6.6" fill="#1CADE4"/>
<circle cx="388.7" cy="656.4" r="6.6" fill="#1CADE4"/>
<circle cx="428.2" cy="741.7" r="6.6" fill="#1CADE4"/>
<circle cx="467.7" cy="751.8" r="6.6" fill="#1CADE4"/>
<circle cx="507.2" cy="718.2" r="6.6" fill="#1CADE4"/>
<circle cx="546.6" cy="743.8" r="6.6" fill="#1CADE4"/>
<circle cx="586.1" cy="699.5" r="6.6" fill="#1CADE4"/>
<circle cx="151.8" cy="783.2" r="6.6" fill="#6F1041"/>
<circle cx="191.3" cy="775.2" r="6.6" fill="#6F1041"/>
<circle cx="230.8" cy="760.8" r="6.6" fill="#6F1041"/>
<circle cx="270.3" cy="787.0" r="6.6" fill="#6F1041"/>
<circle cx="309.8" cy="735.3" r="6.6" fill="#6F1041"/>
<circle cx="349.2" cy="695.3" r="6.6" fill="#6F1041"/>
<circle cx="388.7" cy="751.2" r="6.6" fill="#6F1041"/>
<circle cx="428.2" cy="674.0" r="6.6" fill="#6F1041"/>
<circle cx="467.7" cy="697.9" r="6.6" fill="#6F1041"/>
<circle cx="507.2" cy="776.3" r="6.6" fill="#6F1041"/>
<circle cx="151.8" cy="844.5" r="6.6" fill="#1CADE4"/>
<circle cx="191.3" cy="864.2" r="6.6" fill="#1CADE4"/>
<circle cx="230.8" cy="758.2" r="6.6" fill="#1CADE4"/>
<circle cx="270.3" cy="726.7" r="6.6" fill="#1CADE4"/>
<circle cx="309.8" cy="688.9" r="6.6" fill="#1CADE4"/>
<circle cx="349.2" cy="704.3" r="6.6" fill="#1CADE4"/>
<circle cx="388.7" cy="741.1" r="6.6" fill="#1CADE4"/>
<circle cx="428.2" cy="736.3" r="6.6" fill="#1CADE4"/>
<circle cx="467.7" cy="703.3" r="6.6" fill="#1CADE4"/>
<circle cx="507.2" cy="765.1" r="6.6" fill="#1CADE4"/>
<circle cx="546.6" cy="706.5" r="6.6" fill="#1CADE4"/>
<circle cx="586.1" cy="662.2" r="6.6" fill="#1CADE4"/>
<circle cx="151.8" cy="791.2" r="6.6" fill="#6F1041"/>
<circle cx="191.3" cy="718.2" r="6.6" fill="#6F1041"/>
<circle cx="230.8" cy="694.2" r="6.6" fill="#6F1041"/>
<circle cx="270.3" cy="664.4" r="6.6" fill="#6F1041"/>
<circle cx="309.8" cy="677.7" r="6.6" fill="#6F1041"/>
<circle cx="349.2" cy="764.6" r="6.6" fill="#6F1041"/>
<circle cx="388.7" cy="741.7" r="6.6" fill="#6F1041"/>
<circle cx="428.2" cy="772.6" r="6.6" fill="#6F1041"/>
<circle cx="467.7" cy="753.9" r="6.6" fill="#6F1041"/>
<circle cx="507.2" cy="748.6" r="6.6" fill="#6F1041"/>
<circle cx="546.6" cy="768.8" r="6.6" fill="#6F1041"/>
<circle cx="586.1" cy="825.9" r="6.6" fill="#6F1041"/>
<circle cx="151.8" cy="828.5" r="6.6" fill="#123F6F"/>
<circle cx="191.3" cy="795.0" r="6.6" fill="#123F6F"/>
<circle cx="230.8" cy="759.8" r="6.6" fill="#123F6F"/>
<circle cx="270.3" cy="743.8" r="6.6" fill="#123F6F"/>
<circle cx="309.8" cy="755.5" r="6.6" fill="#123F6F"/>
<circle cx="349.2" cy="742.2" r="6.6" fill="#123F6F"/>
<circle cx="388.7" cy="724.1" r="6.6" fill="#123F6F"/>
<circle cx="428.2" cy="724.1" r="6.6" fill="#123F6F"/>
<circle cx="467.7" cy="679.8" r="6.6" fill="#123F6F"/>
<circle cx="507.2" cy="674.0" r="6.6" fill="#123F6F"/>
<circle cx="151.8" cy="863.7" r="6.6" fill="#123F6F"/>
<circle cx="191.3" cy="830.7" r="6.6" fill="#123F6F"/>
<circle cx="230.8" cy="817.3" r="6.6" fill="#123F6F"/>
<circle cx="270.3" cy="749.6" r="6.6" fill="#123F6F"/>
<circle cx="309.8" cy="766.2" r="6.6" fill="#123F6F"/>
<circle cx="349.2" cy="710.2" r="6.6" fill="#123F6F"/>
<circle cx="388.7" cy="670.8" r="6.6" fill="#123F6F"/>
<circle cx="428.2" cy="696.3" r="6.6" fill="#123F6F"/>
<circle cx="467.7" cy="684.6" r="6.6" fill="#123F6F"/>
<circle cx="507.2" cy="672.4" r="6.6" fill="#123F6F"/>
<circle cx="546.6" cy="724.6" r="6.6" fill="#123F6F"/>
<circle cx="151.8" cy="848.3" r="6.6" fill="#1CADE4"/>
<circle cx="191.3" cy="821.6" r="6.6" fill="#1CADE4"/>
<circle cx="230.8" cy="807.2" r="6.6" fill="#1CADE4"/>
<circle cx="270.3" cy="804.0" r="6.6" fill="#1CADE4"/>
<circle cx="309.8" cy="769.9" r="6.6" fill="#1CADE4"/>
<circle cx="349.2" cy="768.8" r="6.6" fill="#1CADE4"/>
<circle cx="388.7" cy="754.4" r="6.6" fill="#1CADE4"/>
<circle cx="428.2" cy="685.2" r="6.6" fill="#1CADE4"/>
<circle cx="467.7" cy="690.0" r="6.6" fill="#1CADE4"/>
<circle cx="507.2" cy="666.0" r="6.6" fill="#1CADE4"/>
<circle cx="546.6" cy="656.9" r="6.6" fill="#1CADE4"/>
<circle cx="586.1" cy="647.3" r="6.6" fill="#1CADE4"/>
<circle cx="151.8" cy="780.6" r="6.6" fill="#123F6F"/>
<circle cx="191.3" cy="801.9" r="6.6" fill="#123F6F"/>
<circle cx="230.8" cy="748.6" r="6.6" fill="#123F6F"/>
<circle cx="270.3" cy="705.4" r="6.6" fill="#123F6F"/>
<circle cx="309.8" cy="766.2" r="6.6" fill="#123F6F"/>
<circle cx="349.2" cy="711.3" r="6.6" fill="#123F6F"/>
<circle cx="388.7" cy="716.6" r="6.6" fill="#123F6F"/>
<circle cx="428.2" cy="700.6" r="6.6" fill="#123F6F"/>
<circle cx="467.7" cy="741.1" r="6.6" fill="#123F6F"/>
<circle cx="507.2" cy="759.2" r="6.6" fill="#123F6F"/>
<circle cx="151.8" cy="823.2" r="6.6" fill="#1CADE4"/>
<circle cx="191.3" cy="790.7" r="6.6" fill="#1CADE4"/>
<circle cx="230.8" cy="801.9" r="6.6" fill="#1CADE4"/>
<circle cx="309.8" cy="749.6" r="6.6" fill="#1CADE4"/>
<circle cx="349.2" cy="759.2" r="6.6" fill="#1CADE4"/>
<circle cx="388.7" cy="748.0" r="6.6" fill="#1CADE4"/>
<circle cx="428.2" cy="739.0" r="6.6" fill="#1CADE4"/>
<circle cx="467.7" cy="720.9" r="6.6" fill="#1CADE4"/>
<circle cx="507.2" cy="693.1" r="6.6" fill="#1CADE4"/>
<circle cx="546.6" cy="683.0" r="6.6" fill="#1CADE4"/>
<circle cx="586.1" cy="682.5" r="6.6" fill="#1CADE4"/>
<circle cx="151.8" cy="796.0" r="6.6" fill="#1CADE4"/>
<circle cx="191.3" cy="783.2" r="6.6" fill="#1CADE4"/>
<circle cx="230.8" cy="724.6" r="6.6" fill="#1CADE4"/>
<circle cx="309.8" cy="742.2" r="6.6" fill="#1CADE4"/>
<circle cx="349.2" cy="750.2" r="6.6" fill="#1CADE4"/>
<circle cx="388.7" cy="705.4" r="6.6" fill="#1CADE4"/>
<circle cx="428.2" cy="781.6" r="6.6" fill="#1CADE4"/>
<circle cx="467.7" cy="691.0" r="6.6" fill="#1CADE4"/>
<circle cx="507.2" cy="743.2" r="6.6" fill="#1CADE4"/>
<circle cx="586.1" cy="715.0" r="6.6" fill="#1CADE4"/>
<circle cx="151.8" cy="776.3" r="6.6" fill="#6F1041"/>
<circle cx="191.3" cy="772.6" r="6.6" fill="#6F1041"/>
<circle cx="230.8" cy="782.2" r="6.6" fill="#6F1041"/>
<circle cx="270.3" cy="743.2" r="6.6" fill="#6F1041"/>
<circle cx="309.8" cy="715.5" r="6.6" fill="#6F1041"/>
<circle cx="349.2" cy="726.2" r="6.6" fill="#6F1041"/>
<circle cx="388.7" cy="715.5" r="6.6" fill="#6F1041"/>
<circle cx="428.2" cy="758.2" r="6.6" fill="#6F1041"/>
<circle cx="467.7" cy="718.2" r="6.6" fill="#6F1041"/>
<circle cx="507.2" cy="723.5" r="6.6" fill="#6F1041"/>
<circle cx="151.8" cy="784.3" r="6.6" fill="#6F1041"/>
<circle cx="191.3" cy="825.3" r="6.6" fill="#6F1041"/>
<circle cx="230.8" cy="840.8" r="6.6" fill="#6F1041"/>
<circle cx="270.3" cy="789.6" r="6.6" fill="#6F1041"/>
<circle cx="309.8" cy="819.5" r="6.6" fill="#6F1041"/>
<circle cx="349.2" cy="742.7" r="6.6" fill="#6F1041"/>
<circle cx="388.7" cy="715.0" r="6.6" fill="#6F1041"/>
<circle cx="428.2" cy="705.4" r="6.6" fill="#6F1041"/>
<circle cx="467.7" cy="598.8" r="6.6" fill="#6F1041"/>
<circle cx="507.2" cy="612.7" r="6.6" fill="#6F1041"/>
<circle cx="151.8" cy="863.7" r="6.6" fill="#123F6F"/>
<circle cx="191.3" cy="798.7" r="6.6" fill="#123F6F"/>
<circle cx="230.8" cy="768.8" r="6.6" fill="#123F6F"/>
<circle cx="270.3" cy="719.8" r="6.6" fill="#123F6F"/>
<circle cx="309.8" cy="719.8" r="6.6" fill="#123F6F"/>
<circle cx="349.2" cy="750.7" r="6.6" fill="#123F6F"/>
<circle cx="388.7" cy="709.1" r="6.6" fill="#123F6F"/>
<circle cx="428.2" cy="697.9" r="6.6" fill="#123F6F"/>
<circle cx="467.7" cy="741.1" r="6.6" fill="#123F6F"/>
<circle cx="507.2" cy="707.5" r="6.6" fill="#123F6F"/>
<circle cx="546.6" cy="730.5" r="6.6" fill="#123F6F"/>
<circle cx="586.1" cy="707.0" r="6.6" fill="#123F6F"/>
<polyline points="793.8,732.6 833.3,713.9 872.8,660.6 912.3,831.2 951.8,720.9 991.2,742.2 1030.7,727.3 1070.2,841.9 1109.7,777.9 1149.2,749.1 1188.6,655.3 1228.1,735.3" fill="none" stroke="#1CADE4" stroke-width="3.4" stroke-linejoin="round" stroke-linecap="butt"/>
<polyline points="793.8,812.5 833.3,774.7 872.8,749.6 912.3,766.7 951.8,757.6 991.2,748.6 1030.7,656.4 1070.2,741.7 1109.7,751.8 1149.2,718.2 1188.6,743.8 1228.1,699.5" fill="none" stroke="#1CADE4" stroke-width="3.4" stroke-linejoin="round" stroke-linecap="butt"/>
<polyline points="793.8,783.2 833.3,775.2 872.8,760.8 912.3,787.0 951.8,735.3 991.2,695.3 1030.7,751.2 1070.2,674.0 1109.7,697.9 1149.2,776.3" fill="none" stroke="#6F1041" stroke-width="3.4" stroke-linejoin="round" stroke-linecap="butt"/>
<polyline points="793.8,844.5 833.3,864.2 872.8,758.2 912.3,726.7 951.8,688.9 991.2,704.3 1030.7,741.1 1070.2,736.3 1109.7,703.3 1149.2,765.1 1188.6,706.5 1228.1,662.2" fill="none" stroke="#1CADE4" stroke-width="3.4" stroke-linejoin="round" stroke-linecap="butt"/>
<polyline points="793.8,828.5 833.3,795.0 872.8,759.8 912.3,743.8 951.8,755.5 991.2,742.2 1030.7,724.1 1070.2,724.1 1109.7,679.8 1149.2,674.0" fill="none" stroke="#123F6F" stroke-width="3.4" stroke-linejoin="round" stroke-linecap="butt"/>
<polyline points="793.8,863.7 833.3,830.7 872.8,817.3 912.3,749.6 951.8,766.2 991.2,710.2 1030.7,670.8 1070.2,696.3 1109.7,684.6 1149.2,672.4 1188.6,724.6" fill="none" stroke="#123F6F" stroke-width="3.4" stroke-linejoin="round" stroke-linecap="butt"/>
<polyline points="793.8,848.3 833.3,821.6 872.8,807.2 912.3,804.0 951.8,769.9 991.2,768.8 1030.7,754.4 1070.2,685.2 1109.7,690.0 1149.2,666.0 1188.6,656.9 1228.1,647.3" fill="none" stroke="#1CADE4" stroke-width="3.4" stroke-linejoin="round" stroke-linecap="butt"/>
<polyline points="793.8,780.6 833.3,801.9 872.8,748.6 912.3,705.4 951.8,766.2 991.2,711.3 1030.7,716.6 1070.2,700.6 1109.7,741.1 1149.2,759.2" fill="none" stroke="#123F6F" stroke-width="3.4" stroke-linejoin="round" stroke-linecap="butt"/>
<polyline points="793.8,823.2 833.3,790.7 872.8,801.9 951.8,749.6 991.2,759.2 1030.7,748.0 1070.2,739.0 1109.7,720.9 1149.2,693.1 1188.6,683.0 1228.1,682.5" fill="none" stroke="#1CADE4" stroke-width="3.4" stroke-linejoin="round" stroke-linecap="butt"/>
<polyline points="793.8,796.0 833.3,783.2 872.8,724.6 951.8,742.2 991.2,750.2 1030.7,705.4 1070.2,781.6 1109.7,691.0 1149.2,743.2 1228.1,715.0" fill="none" stroke="#1CADE4" stroke-width="3.4" stroke-linejoin="round" stroke-linecap="butt"/>
<polyline points="793.8,776.3 833.3,772.6 872.8,782.2 912.3,743.2 951.8,715.5 991.2,726.2 1030.7,715.5 1070.2,758.2 1109.7,718.2 1149.2,723.5" fill="none" stroke="#6F1041" stroke-width="3.4" stroke-linejoin="round" stroke-linecap="butt"/>
<polyline points="793.8,784.3 833.3,825.3 872.8,840.8 912.3,789.6 951.8,819.5 991.2,742.7 1030.7,715.0 1070.2,705.4 1109.7,598.8 1149.2,612.7" fill="none" stroke="#6F1041" stroke-width="3.4" stroke-linejoin="round" stroke-linecap="butt"/>
<polyline points="793.8,863.7 833.3,798.7 872.8,768.8 912.3,719.8 951.8,719.8 991.2,750.7 1030.7,709.1 1070.2,697.9 1109.7,741.1 1149.2,707.5 1188.6,730.5 1228.1,707.0" fill="none" stroke="#123F6F" stroke-width="3.4" stroke-linejoin="round" stroke-linecap="butt"/>
<circle cx="793.8" cy="732.6" r="6.6" fill="#1CADE4"/>
<circle cx="833.3" cy="713.9" r="6.6" fill="#1CADE4"/>
<circle cx="872.8" cy="660.6" r="6.6" fill="#1CADE4"/>
<circle cx="912.3" cy="831.2" r="6.6" fill="#1CADE4"/>
<circle cx="951.8" cy="720.9" r="6.6" fill="#1CADE4"/>
<circle cx="991.2" cy="742.2" r="6.6" fill="#1CADE4"/>
<circle cx="1030.7" cy="727.3" r="6.6" fill="#1CADE4"/>
<circle cx="1070.2" cy="841.9" r="6.6" fill="#1CADE4"/>
<circle cx="1109.7" cy="777.9" r="6.6" fill="#1CADE4"/>
<circle cx="1149.2" cy="749.1" r="6.6" fill="#1CADE4"/>
<circle cx="1188.6" cy="655.3" r="6.6" fill="#1CADE4"/>
<circle cx="1228.1" cy="735.3" r="6.6" fill="#1CADE4"/>
<circle cx="793.8" cy="812.5" r="6.6" fill="#1CADE4"/>
<circle cx="833.3" cy="774.7" r="6.6" fill="#1CADE4"/>
<circle cx="872.8" cy="749.6" r="6.6" fill="#1CADE4"/>
<circle cx="912.3" cy="766.7" r="6.6" fill="#1CADE4"/>
<circle cx="951.8" cy="757.6" r="6.6" fill="#1CADE4"/>
<circle cx="991.2" cy="748.6" r="6.6" fill="#1CADE4"/>
<circle cx="1030.7" cy="656.4" r="6.6" fill="#1CADE4"/>
<circle cx="1070.2" cy="741.7" r="6.6" fill="#1CADE4"/>
<circle cx="1109.7" cy="751.8" r="6.6" fill="#1CADE4"/>
<circle cx="1149.2" cy="718.2" r="6.6" fill="#1CADE4"/>
<circle cx="1188.6" cy="743.8" r="6.6" fill="#1CADE4"/>
<circle cx="1228.1" cy="699.5" r="6.6" fill="#1CADE4"/>
<circle cx="793.8" cy="783.2" r="6.6" fill="#6F1041"/>
<circle cx="833.3" cy="775.2" r="6.6" fill="#6F1041"/>
<circle cx="872.8" cy="760.8" r="6.6" fill="#6F1041"/>
<circle cx="912.3" cy="787.0" r="6.6" fill="#6F1041"/>
<circle cx="951.8" cy="735.3" r="6.6" fill="#6F1041"/>
<circle cx="991.2" cy="695.3" r="6.6" fill="#6F1041"/>
<circle cx="1030.7" cy="751.2" r="6.6" fill="#6F1041"/>
<circle cx="1070.2" cy="674.0" r="6.6" fill="#6F1041"/>
<circle cx="1109.7" cy="697.9" r="6.6" fill="#6F1041"/>
<circle cx="1149.2" cy="776.3" r="6.6" fill="#6F1041"/>
<circle cx="793.8" cy="844.5" r="6.6" fill="#1CADE4"/>
<circle cx="833.3" cy="864.2" r="6.6" fill="#1CADE4"/>
<circle cx="872.8" cy="758.2" r="6.6" fill="#1CADE4"/>
<circle cx="912.3" cy="726.7" r="6.6" fill="#1CADE4"/>
<circle cx="951.8" cy="688.9" r="6.6" fill="#1CADE4"/>
<circle cx="991.2" cy="704.3" r="6.6" fill="#1CADE4"/>
<circle cx="1030.7" cy="741.1" r="6.6" fill="#1CADE4"/>
<circle cx="1070.2" cy="736.3" r="6.6" fill="#1CADE4"/>
<circle cx="1109.7" cy="703.3" r="6.6" fill="#1CADE4"/>
<circle cx="1149.2" cy="765.1" r="6.6" fill="#1CADE4"/>
<circle cx="1188.6" cy="706.5" r="6.6" fill="#1CADE4"/>
<circle cx="1228.1" cy="662.2" r="6.6" fill="#1CADE4"/>
<circle cx="793.8" cy="828.5" r="6.6" fill="#123F6F"/>
<circle cx="833.3" cy="795.0" r="6.6" fill="#123F6F"/>
<circle cx="872.8" cy="759.8" r="6.6" fill="#123F6F"/>
<circle cx="912.3" cy="743.8" r="6.6" fill="#123F6F"/>
<circle cx="951.8" cy="755.5" r="6.6" fill="#123F6F"/>
<circle cx="991.2" cy="742.2" r="6.6" fill="#123F6F"/>
<circle cx="1030.7" cy="724.1" r="6.6" fill="#123F6F"/>
<circle cx="1070.2" cy="724.1" r="6.6" fill="#123F6F"/>
<circle cx="1109.7" cy="679.8" r="6.6" fill="#123F6F"/>
<circle cx="1149.2" cy="674.0" r="6.6" fill="#123F6F"/>
<circle cx="793.8" cy="863.7" r="6.6" fill="#123F6F"/>
<circle cx="833.3" cy="830.7" r="6.6" fill="#123F6F"/>
<circle cx="872.8" cy="817.3" r="6.6" fill="#123F6F"/>
<circle cx="912.3" cy="749.6" r="6.6" fill="#123F6F"/>
<circle cx="951.8" cy="766.2" r="6.6" fill="#123F6F"/>
<circle cx="991.2" cy="710.2" r="6.6" fill="#123F6F"/>
<circle cx="1030.7" cy="670.8" r="6.6" fill="#123F6F"/>
<circle cx="1070.2" cy="696.3" r="6.6" fill="#123F6F"/>
<circle cx="1109.7" cy="684.6" r="6.6" fill="#123F6F"/>
<circle cx="1149.2" cy="672.4" r="6.6" fill="#123F6F"/>
<circle cx="1188.6" cy="724.6" r="6.6" fill="#123F6F"/>
<circle cx="793.8" cy="848.3" r="6.6" fill="#1CADE4"/>
<circle cx="833.3" cy="821.6" r="6.6" fill="#1CADE4"/>
<circle cx="872.8" cy="807.2" r="6.6" fill="#1CADE4"/>
<circle cx="912.3" cy="804.0" r="6.6" fill="#1CADE4"/>
<circle cx="951.8" cy="769.9" r="6.6" fill="#1CADE4"/>
<circle cx="991.2" cy="768.8" r="6.6" fill="#1CADE4"/>
<circle cx="1030.7" cy="754.4" r="6.6" fill="#1CADE4"/>
<circle cx="1070.2" cy="685.2" r="6.6" fill="#1CADE4"/>
<circle cx="1109.7" cy="690.0" r="6.6" fill="#1CADE4"/>
<circle cx="1149.2" cy="666.0" r="6.6" fill="#1CADE4"/>
<circle cx="1188.6" cy="656.9" r="6.6" fill="#1CADE4"/>
<circle cx="1228.1" cy="647.3" r="6.6" fill="#1CADE4"/>
<circle cx="793.8" cy="780.6" r="6.6" fill="#123F6F"/>
<circle cx="833.3" cy="801.9" r="6.6" fill="#123F6F"/>
<circle cx="872.8" cy="748.6" r="6.6" fill="#123F6F"/>
<circle cx="912.3" cy="705.4" r="6.6" fill="#123F6F"/>
<circle cx="951.8" cy="766.2" r="6.6" fill="#123F6F"/>
<circle cx="991.2" cy="711.3" r="6.6" fill="#123F6F"/>
<circle cx="1030.7" cy="716.6" r="6.6" fill="#123F6F"/>
<circle cx="1070.2" cy="700.6" r="6.6" fill="#123F6F"/>
<circle cx="1109.7" cy="741.1" r="6.6" fill="#123F6F"/>
<circle cx="1149.2" cy="759.2" r="6.6" fill="#123F6F"/>
<circle cx="793.8" cy="823.2" r="6.6" fill="#1CADE4"/>
<circle cx="833.3" cy="790.7" r="6.6" fill="#1CADE4"/>
<circle cx="872.8" cy="801.9" r="6.6" fill="#1CADE4"/>
<circle cx="951.8" cy="749.6" r="6.6" fill="#1CADE4"/>
<circle cx="991.2" cy="759.2" r="6.6" fill="#1CADE4"/>
<circle cx="1030.7" cy="748.0" r="6.6" fill="#1CADE4"/>
<circle cx="1070.2" cy="739.0" r="6.6" fill="#1CADE4"/>
<circle cx="1109.7" cy="720.9" r="6.6" fill="#1CADE4"/>
<circle cx="1149.2" cy="693.1" r="6.6" fill="#1CADE4"/>
<circle cx="1188.6" cy="683.0" r="6.6" fill="#1CADE4"/>
<circle cx="1228.1" cy="682.5" r="6.6" fill="#1CADE4"/>
<circle cx="793.8" cy="796.0" r="6.6" fill="#1CADE4"/>
<circle cx="833.3" cy="783.2" r="6.6" fill="#1CADE4"/>
<circle cx="872.8" cy="724.6" r="6.6" fill="#1CADE4"/>
<circle cx="951.8" cy="742.2" r="6.6" fill="#1CADE4"/>
<circle cx="991.2" cy="750.2" r="6.6" fill="#1CADE4"/>
<circle cx="1030.7" cy="705.4" r="6.6" fill="#1CADE4"/>
<circle cx="1070.2" cy="781.6" r="6.6" fill="#1CADE4"/>
<circle cx="1109.7" cy="691.0" r="6.6" fill="#1CADE4"/>
<circle cx="1149.2" cy="743.2" r="6.6" fill="#1CADE4"/>
<circle cx="1228.1" cy="715.0" r="6.6" fill="#1CADE4"/>
<circle cx="793.8" cy="776.3" r="6.6" fill="#6F1041"/>
<circle cx="833.3" cy="772.6" r="6.6" fill="#6F1041"/>
<circle cx="872.8" cy="782.2" r="6.6" fill="#6F1041"/>
<circle cx="912.3" cy="743.2" r="6.6" fill="#6F1041"/>
<circle cx="951.8" cy="715.5" r="6.6" fill="#6F1041"/>
<circle cx="991.2" cy="726.2" r="6.6" fill="#6F1041"/>
<circle cx="1030.7" cy="715.5" r="6.6" fill="#6F1041"/>
<circle cx="1070.2" cy="758.2" r="6.6" fill="#6F1041"/>
<circle cx="1109.7" cy="718.2" r="6.6" fill="#6F1041"/>
<circle cx="1149.2" cy="723.5" r="6.6" fill="#6F1041"/>
<circle cx="793.8" cy="784.3" r="6.6" fill="#6F1041"/>
<circle cx="833.3" cy="825.3" r="6.6" fill="#6F1041"/>
<circle cx="872.8" cy="840.8" r="6.6" fill="#6F1041"/>
<circle cx="912.3" cy="789.6" r="6.6" fill="#6F1041"/>
<circle cx="951.8" cy="819.5" r="6.6" fill="#6F1041"/>
<circle cx="991.2" cy="742.7" r="6.6" fill="#6F1041"/>
<circle cx="1030.7" cy="715.0" r="6.6" fill="#6F1041"/>
<circle cx="1070.2" cy="705.4" r="6.6" fill="#6F1041"/>
<circle cx="1109.7" cy="598.8" r="6.6" fill="#6F1041"/>
<circle cx="1149.2" cy="612.7" r="6.6" fill="#6F1041"/>
<circle cx="793.8" cy="863.7" r="6.6" fill="#123F6F"/>
<circle cx="833.3" cy="798.7" r="6.6" fill="#123F6F"/>
<circle cx="872.8" cy="768.8" r="6.6" fill="#123F6F"/>
<circle cx="912.3" cy="719.8" r="6.6" fill="#123F6F"/>
<circle cx="951.8" cy="719.8" r="6.6" fill="#123F6F"/>
<circle cx="991.2" cy="750.7" r="6.6" fill="#123F6F"/>
<circle cx="1030.7" cy="709.1" r="6.6" fill="#123F6F"/>
<circle cx="1070.2" cy="697.9" r="6.6" fill="#123F6F"/>
<circle cx="1109.7" cy="741.1" r="6.6" fill="#123F6F"/>
<circle cx="1149.2" cy="707.5" r="6.6" fill="#123F6F"/>
<circle cx="1188.6" cy="730.5" r="6.6" fill="#123F6F"/>
<circle cx="1228.1" cy="707.0" r="6.6" fill="#123F6F"/>
<polyline points="151.8,1291.3 191.3,1253.4 230.8,1228.4 270.3,1245.5 309.8,1236.4 349.2,1227.3 388.7,1135.1 428.2,1220.4 467.7,1230.5 507.2,1196.9 546.6,1222.5 586.1,1178.3" fill="none" stroke="#1CADE4" stroke-width="3.4" stroke-linejoin="round" stroke-linecap="butt"/>
<polyline points="151.8,1262.0 191.3,1254.0 230.8,1239.6 270.3,1265.7 309.8,1214.0 349.2,1174.0 388.7,1230.0 428.2,1152.7 467.7,1176.7 507.2,1255.0" fill="none" stroke="#6F1041" stroke-width="3.4" stroke-linejoin="round" stroke-linecap="butt"/>
<polyline points="151.8,1323.3 191.3,1343.0 230.8,1236.9 270.3,1205.5 309.8,1167.6 349.2,1183.1 388.7,1219.9 428.2,1215.1 467.7,1182.0 507.2,1243.9 546.6,1185.2 586.1,1141.0" fill="none" stroke="#1CADE4" stroke-width="3.4" stroke-linejoin="round" stroke-linecap="butt"/>
<polyline points="151.8,1342.5 191.3,1309.4 230.8,1296.1 270.3,1228.4 309.8,1244.9 349.2,1189.0 388.7,1149.5 428.2,1175.1 467.7,1163.4 507.2,1151.1 546.6,1203.3" fill="none" stroke="#123F6F" stroke-width="3.4" stroke-linejoin="round" stroke-linecap="butt"/>
<polyline points="151.8,1327.0 191.3,1300.4 230.8,1286.0 270.3,1282.8 309.8,1248.7 349.2,1247.6 388.7,1233.2 428.2,1163.9 467.7,1168.7 507.2,1144.7 546.6,1135.7 586.1,1126.1" fill="none" stroke="#1CADE4" stroke-width="3.4" stroke-linejoin="round" stroke-linecap="butt"/>
<polyline points="151.8,1259.3 191.3,1280.6 230.8,1227.3 270.3,1184.2 309.8,1244.9 349.2,1190.0 388.7,1195.3 428.2,1179.4 467.7,1219.9 507.2,1238.0" fill="none" stroke="#123F6F" stroke-width="3.4" stroke-linejoin="round" stroke-linecap="butt"/>
<polyline points="151.8,1302.0 191.3,1269.4 230.8,1280.6 309.8,1228.4 349.2,1238.0 388.7,1226.8 428.2,1217.7 467.7,1199.6 507.2,1171.9 546.6,1161.8 586.1,1161.2" fill="none" stroke="#1CADE4" stroke-width="3.4" stroke-linejoin="round" stroke-linecap="butt"/>
<polyline points="151.8,1274.8 191.3,1262.0 230.8,1203.3 309.8,1220.9 349.2,1228.9 388.7,1184.2 428.2,1260.4 467.7,1169.8 507.2,1222.0 586.1,1193.8" fill="none" stroke="#1CADE4" stroke-width="3.4" stroke-linejoin="round" stroke-linecap="butt"/>
<polyline points="151.8,1255.0 191.3,1251.3 230.8,1260.9 270.3,1222.0 309.8,1194.3 349.2,1204.9 388.7,1194.3 428.2,1236.9 467.7,1196.9 507.2,1202.3" fill="none" stroke="#6F1041" stroke-width="3.4" stroke-linejoin="round" stroke-linecap="butt"/>
<polyline points="151.8,1342.5 191.3,1277.4 230.8,1247.6 270.3,1198.5 309.8,1198.5 349.2,1229.5 388.7,1187.9 428.2,1176.7 467.7,1219.9 507.2,1186.3 546.6,1209.2 586.1,1185.8" fill="none" stroke="#123F6F" stroke-width="3.4" stroke-linejoin="round" stroke-linecap="butt"/>
<circle cx="151.8" cy="1291.3" r="6.6" fill="#1CADE4"/>
<circle cx="191.3" cy="1253.4" r="6.6" fill="#1CADE4"/>
<circle cx="230.8" cy="1228.4" r="6.6" fill="#1CADE4"/>
<circle cx="270.3" cy="1245.5" r="6.6" fill="#1CADE4"/>
<circle cx="309.8" cy="1236.4" r="6.6" fill="#1CADE4"/>
<circle cx="349.2" cy="1227.3" r="6.6" fill="#1CADE4"/>
<circle cx="388.7" cy="1135.1" r="6.6" fill="#1CADE4"/>
<circle cx="428.2" cy="1220.4" r="6.6" fill="#1CADE4"/>
<circle cx="467.7" cy="1230.5" r="6.6" fill="#1CADE4"/>
<circle cx="507.2" cy="1196.9" r="6.6" fill="#1CADE4"/>
<circle cx="546.6" cy="1222.5" r="6.6" fill="#1CADE4"/>
<circle cx="586.1" cy="1178.3" r="6.6" fill="#1CADE4"/>
<circle cx="151.8" cy="1262.0" r="6.6" fill="#6F1041"/>
<circle cx="191.3" cy="1254.0" r="6.6" fill="#6F1041"/>
<circle cx="230.8" cy="1239.6" r="6.6" fill="#6F1041"/>
<circle cx="270.3" cy="1265.7" r="6.6" fill="#6F1041"/>
<circle cx="309.8" cy="1214.0" r="6.6" fill="#6F1041"/>
<circle cx="349.2" cy="1174.0" r="6.6" fill="#6F1041"/>
<circle cx="388.7" cy="1230.0" r="6.6" fill="#6F1041"/>
<circle cx="428.2" cy="1152.7" r="6.6" fill="#6F1041"/>
<circle cx="467.7" cy="1176.7" r="6.6" fill="#6F1041"/>
<circle cx="507.2" cy="1255.0" r="6.6" fill="#6F1041"/>
<circle cx="151.8" cy="1323.3" r="6.6" fill="#1CADE4"/>
<circle cx="191.3" cy="1343.0" r="6.6" fill="#1CADE4"/>
<circle cx="230.8" cy="1236.9" r="6.6" fill="#1CADE4"/>
<circle cx="270.3" cy="1205.5" r="6.6" fill="#1CADE4"/>
<circle cx="309.8" cy="1167.6" r="6.6" fill="#1CADE4"/>
<circle cx="349.2" cy="1183.1" r="6.6" fill="#1CADE4"/>
<circle cx="388.7" cy="1219.9" r="6.6" fill="#1CADE4"/>
<circle cx="428.2" cy="1215.1" r="6.6" fill="#1CADE4"/>
<circle cx="467.7" cy="1182.0" r="6.6" fill="#1CADE4"/>
<circle cx="507.2" cy="1243.9" r="6.6" fill="#1CADE4"/>
<circle cx="546.6" cy="1185.2" r="6.6" fill="#1CADE4"/>
<circle cx="586.1" cy="1141.0" r="6.6" fill="#1CADE4"/>
<circle cx="151.8" cy="1342.5" r="6.6" fill="#123F6F"/>
<circle cx="191.3" cy="1309.4" r="6.6" fill="#123F6F"/>
<circle cx="230.8" cy="1296.1" r="6.6" fill="#123F6F"/>
<circle cx="270.3" cy="1228.4" r="6.6" fill="#123F6F"/>
<circle cx="309.8" cy="1244.9" r="6.6" fill="#123F6F"/>
<circle cx="349.2" cy="1189.0" r="6.6" fill="#123F6F"/>
<circle cx="388.7" cy="1149.5" r="6.6" fill="#123F6F"/>
<circle cx="428.2" cy="1175.1" r="6.6" fill="#123F6F"/>
<circle cx="467.7" cy="1163.4" r="6.6" fill="#123F6F"/>
<circle cx="507.2" cy="1151.1" r="6.6" fill="#123F6F"/>
<circle cx="546.6" cy="1203.3" r="6.6" fill="#123F6F"/>
<circle cx="151.8" cy="1327.0" r="6.6" fill="#1CADE4"/>
<circle cx="191.3" cy="1300.4" r="6.6" fill="#1CADE4"/>
<circle cx="230.8" cy="1286.0" r="6.6" fill="#1CADE4"/>
<circle cx="270.3" cy="1282.8" r="6.6" fill="#1CADE4"/>
<circle cx="309.8" cy="1248.7" r="6.6" fill="#1CADE4"/>
<circle cx="349.2" cy="1247.6" r="6.6" fill="#1CADE4"/>
<circle cx="388.7" cy="1233.2" r="6.6" fill="#1CADE4"/>
<circle cx="428.2" cy="1163.9" r="6.6" fill="#1CADE4"/>
<circle cx="467.7" cy="1168.7" r="6.6" fill="#1CADE4"/>
<circle cx="507.2" cy="1144.7" r="6.6" fill="#1CADE4"/>
<circle cx="546.6" cy="1135.7" r="6.6" fill="#1CADE4"/>
<circle cx="586.1" cy="1126.1" r="6.6" fill="#1CADE4"/>
<circle cx="151.8" cy="1259.3" r="6.6" fill="#123F6F"/>
<circle cx="191.3" cy="1280.6" r="6.6" fill="#123F6F"/>
<circle cx="230.8" cy="1227.3" r="6.6" fill="#123F6F"/>
<circle cx="270.3" cy="1184.2" r="6.6" fill="#123F6F"/>
<circle cx="309.8" cy="1244.9" r="6.6" fill="#123F6F"/>
<circle cx="349.2" cy="1190.0" r="6.6" fill="#123F6F"/>
<circle cx="388.7" cy="1195.3" r="6.6" fill="#123F6F"/>
<circle cx="428.2" cy="1179.4" r="6.6" fill="#123F6F"/>
<circle cx="467.7" cy="1219.9" r="6.6" fill="#123F6F"/>
<circle cx="507.2" cy="1238.0" r="6.6" fill="#123F6F"/>
<circle cx="151.8" cy="1302.0" r="6.6" fill="#1CADE4"/>
<circle cx="191.3" cy="1269.4" r="6.6" fill="#1CADE4"/>
<circle cx="230.8" cy="1280.6" r="6.6" fill="#1CADE4"/>
<circle cx="309.8" cy="1228.4" r="6.6" fill="#1CADE4"/>
<circle cx="349.2" cy="1238.0" r="6.6" fill="#1CADE4"/>
<circle cx="388.7" cy="1226.8" r="6.6" fill="#1CADE4"/>
<circle cx="428.2" cy="1217.7" r="6.6" fill="#1CADE4"/>
<circle cx="467.7" cy="1199.6" r="6.6" fill="#1CADE4"/>
<circle cx="507.2" cy="1171.9" r="6.6" fill="#1CADE4"/>
<circle cx="546.6" cy="1161.8" r="6.6" fill="#1CADE4"/>
<circle cx="586.1" cy="1161.2" r="6.6" fill="#1CADE4"/>
<circle cx="151.8" cy="1274.8" r="6.6" fill="#1CADE4"/>
<circle cx="191.3" cy="1262.0" r="6.6" fill="#1CADE4"/>
<circle cx="230.8" cy="1203.3" r="6.6" fill="#1CADE4"/>
<circle cx="309.8" cy="1220.9" r="6.6" fill="#1CADE4"/>
<circle cx="349.2" cy="1228.9" r="6.6" fill="#1CADE4"/>
<circle cx="388.7" cy="1184.2" r="6.6" fill="#1CADE4"/>
<circle cx="428.2" cy="1260.4" r="6.6" fill="#1CADE4"/>
<circle cx="467.7" cy="1169.8" r="6.6" fill="#1CADE4"/>
<circle cx="507.2" cy="1222.0" r="6.6" fill="#1CADE4"/>
<circle cx="586.1" cy="1193.8" r="6.6" fill="#1CADE4"/>
<circle cx="151.8" cy="1255.0" r="6.6" fill="#6F1041"/>
<circle cx="191.3" cy="1251.3" r="6.6" fill="#6F1041"/>
<circle cx="230.8" cy="1260.9" r="6.6" fill="#6F1041"/>
<circle cx="270.3" cy="1222.0" r="6.6" fill="#6F1041"/>
<circle cx="309.8" cy="1194.3" r="6.6" fill="#6F1041"/>
<circle cx="349.2" cy="1204.9" r="6.6" fill="#6F1041"/>
<circle cx="388.7" cy="1194.3" r="6.6" fill="#6F1041"/>
<circle cx="428.2" cy="1236.9" r="6.6" fill="#6F1041"/>
<circle cx="467.7" cy="1196.9" r="6.6" fill="#6F1041"/>
<circle cx="507.2" cy="1202.3" r="6.6" fill="#6F1041"/>
<circle cx="151.8" cy="1342.5" r="6.6" fill="#123F6F"/>
<circle cx="191.3" cy="1277.4" r="6.6" fill="#123F6F"/>
<circle cx="230.8" cy="1247.6" r="6.6" fill="#123F6F"/>
<circle cx="270.3" cy="1198.5" r="6.6" fill="#123F6F"/>
<circle cx="309.8" cy="1198.5" r="6.6" fill="#123F6F"/>
<circle cx="349.2" cy="1229.5" r="6.6" fill="#123F6F"/>
<circle cx="388.7" cy="1187.9" r="6.6" fill="#123F6F"/>
<circle cx="428.2" cy="1176.7" r="6.6" fill="#123F6F"/>
<circle cx="467.7" cy="1219.9" r="6.6" fill="#123F6F"/>
<circle cx="507.2" cy="1186.3" r="6.6" fill="#123F6F"/>
<circle cx="546.6" cy="1209.2" r="6.6" fill="#123F6F"/>
<circle cx="586.1" cy="1185.8" r="6.6" fill="#123F6F"/>
<polygon points="793.8,1214.3 833.3,1206.6 872.8,1179.2 912.3,1151.1 951.8,1156.4 991.2,1149.1 1030.7,1120.6 1070.2,1121.6 1109.7,1135.2 1149.2,1116.7 1188.6,1113.7 1228.1,1104.4 1228.1,1203.6 1188.6,1235.1 1149.2,1260.0 1109.7,1225.7 1070.2,1252.5 1030.7,1245.7 991.2,1246.2 951.8,1255.0 912.3,1277.5 872.8,1289.7 833.3,1317.1 793.8,1342.7" fill="#cbc9ca"/>
<polygon points="793.8,1246.4 833.3,1234.2 872.8,1206.8 912.3,1182.7 951.8,1181.0 991.2,1173.4 1030.7,1151.8 1070.2,1154.3 1109.7,1157.8 1149.2,1152.5 1188.6,1144.1 1228.1,1129.2 1228.1,1178.8 1188.6,1204.7 1149.2,1224.2 1109.7,1203.1 1070.2,1219.8 1030.7,1214.4 991.2,1221.9 951.8,1230.4 912.3,1245.9 872.8,1262.1 833.3,1289.5 793.8,1310.6" fill="#999798"/>
<circle cx="793.8" cy="1272.3" r="6.6" fill="#1CADE4"/>
<circle cx="833.3" cy="1237.0" r="6.6" fill="#1CADE4"/>
<circle cx="872.8" cy="1213.7" r="6.6" fill="#1CADE4"/>
<circle cx="912.3" cy="1229.6" r="6.6" fill="#1CADE4"/>
<circle cx="951.8" cy="1221.1" r="6.6" fill="#1CADE4"/>
<circle cx="991.2" cy="1212.7" r="6.6" fill="#1CADE4"/>
<circle cx="1030.7" cy="1126.7" r="6.6" fill="#1CADE4"/>
<circle cx="1070.2" cy="1206.2" r="6.6" fill="#1CADE4"/>
<circle cx="1109.7" cy="1215.6" r="6.6" fill="#1CADE4"/>
<circle cx="1149.2" cy="1184.4" r="6.6" fill="#1CADE4"/>
<circle cx="1188.6" cy="1208.2" r="6.6" fill="#1CADE4"/>
<circle cx="1228.1" cy="1167.0" r="6.6" fill="#1CADE4"/>
<circle cx="793.8" cy="1245.0" r="6.6" fill="#6F1041"/>
<circle cx="833.3" cy="1237.5" r="6.6" fill="#6F1041"/>
<circle cx="872.8" cy="1224.1" r="6.6" fill="#6F1041"/>
<circle cx="912.3" cy="1248.4" r="6.6" fill="#6F1041"/>
<circle cx="951.8" cy="1200.2" r="6.6" fill="#6F1041"/>
<circle cx="991.2" cy="1163.0" r="6.6" fill="#6F1041"/>
<circle cx="1030.7" cy="1215.2" r="6.6" fill="#6F1041"/>
<circle cx="1070.2" cy="1143.1" r="6.6" fill="#6F1041"/>
<circle cx="1109.7" cy="1165.5" r="6.6" fill="#6F1041"/>
<circle cx="1149.2" cy="1238.5" r="6.6" fill="#6F1041"/>
<circle cx="793.8" cy="1302.1" r="6.6" fill="#1CADE4"/>
<circle cx="833.3" cy="1320.5" r="6.6" fill="#1CADE4"/>
<circle cx="872.8" cy="1221.6" r="6.6" fill="#1CADE4"/>
<circle cx="912.3" cy="1192.3" r="6.6" fill="#1CADE4"/>
<circle cx="951.8" cy="1157.0" r="6.6" fill="#1CADE4"/>
<circle cx="991.2" cy="1171.4" r="6.6" fill="#1CADE4"/>
<circle cx="1030.7" cy="1205.7" r="6.6" fill="#1CADE4"/>
<circle cx="1070.2" cy="1201.2" r="6.6" fill="#1CADE4"/>
<circle cx="1109.7" cy="1170.4" r="6.6" fill="#1CADE4"/>
<circle cx="1149.2" cy="1228.1" r="6.6" fill="#1CADE4"/>
<circle cx="1188.6" cy="1173.4" r="6.6" fill="#1CADE4"/>
<circle cx="1228.1" cy="1132.2" r="6.6" fill="#1CADE4"/>
<circle cx="793.8" cy="1320.0" r="6.6" fill="#123F6F"/>
<circle cx="833.3" cy="1289.2" r="6.6" fill="#123F6F"/>
<circle cx="872.8" cy="1276.8" r="6.6" fill="#123F6F"/>
<circle cx="912.3" cy="1213.7" r="6.6" fill="#123F6F"/>
<circle cx="951.8" cy="1229.1" r="6.6" fill="#123F6F"/>
<circle cx="991.2" cy="1176.9" r="6.6" fill="#123F6F"/>
<circle cx="1030.7" cy="1140.1" r="6.6" fill="#123F6F"/>
<circle cx="1070.2" cy="1164.0" r="6.6" fill="#123F6F"/>
<circle cx="1109.7" cy="1153.1" r="6.6" fill="#123F6F"/>
<circle cx="1149.2" cy="1141.6" r="6.6" fill="#123F6F"/>
<circle cx="1188.6" cy="1190.3" r="6.6" fill="#123F6F"/>
<circle cx="793.8" cy="1305.6" r="6.6" fill="#1CADE4"/>
<circle cx="833.3" cy="1280.7" r="6.6" fill="#1CADE4"/>
<circle cx="872.8" cy="1267.3" r="6.6" fill="#1CADE4"/>
<circle cx="912.3" cy="1264.3" r="6.6" fill="#1CADE4"/>
<circle cx="951.8" cy="1232.5" r="6.6" fill="#1CADE4"/>
<circle cx="991.2" cy="1231.5" r="6.6" fill="#1CADE4"/>
<circle cx="1030.7" cy="1218.1" r="6.6" fill="#1CADE4"/>
<circle cx="1070.2" cy="1153.5" r="6.6" fill="#1CADE4"/>
<circle cx="1109.7" cy="1158.0" r="6.6" fill="#1CADE4"/>
<circle cx="1149.2" cy="1135.7" r="6.6" fill="#1CADE4"/>
<circle cx="1188.6" cy="1127.2" r="6.6" fill="#1CADE4"/>
<circle cx="1228.1" cy="1118.3" r="6.6" fill="#1CADE4"/>
<circle cx="793.8" cy="1242.5" r="6.6" fill="#123F6F"/>
<circle cx="833.3" cy="1262.3" r="6.6" fill="#123F6F"/>
<circle cx="872.8" cy="1212.7" r="6.6" fill="#123F6F"/>
<circle cx="912.3" cy="1172.4" r="6.6" fill="#123F6F"/>
<circle cx="951.8" cy="1229.1" r="6.6" fill="#123F6F"/>
<circle cx="991.2" cy="1177.9" r="6.6" fill="#123F6F"/>
<circle cx="1030.7" cy="1182.9" r="6.6" fill="#123F6F"/>
<circle cx="1070.2" cy="1168.0" r="6.6" fill="#123F6F"/>
<circle cx="1109.7" cy="1205.7" r="6.6" fill="#123F6F"/>
<circle cx="1149.2" cy="1222.6" r="6.6" fill="#123F6F"/>
<circle cx="793.8" cy="1282.2" r="6.6" fill="#1CADE4"/>
<circle cx="833.3" cy="1251.9" r="6.6" fill="#1CADE4"/>
<circle cx="872.8" cy="1262.3" r="6.6" fill="#1CADE4"/>
<circle cx="951.8" cy="1213.7" r="6.6" fill="#1CADE4"/>
<circle cx="991.2" cy="1222.6" r="6.6" fill="#1CADE4"/>
<circle cx="1030.7" cy="1212.2" r="6.6" fill="#1CADE4"/>
<circle cx="1070.2" cy="1203.7" r="6.6" fill="#1CADE4"/>
<circle cx="1109.7" cy="1186.8" r="6.6" fill="#1CADE4"/>
<circle cx="1149.2" cy="1161.0" r="6.6" fill="#1CADE4"/>
<circle cx="1188.6" cy="1151.6" r="6.6" fill="#1CADE4"/>
<circle cx="1228.1" cy="1151.1" r="6.6" fill="#1CADE4"/>
<circle cx="793.8" cy="1256.9" r="6.6" fill="#1CADE4"/>
<circle cx="833.3" cy="1245.0" r="6.6" fill="#1CADE4"/>
<circle cx="872.8" cy="1190.3" r="6.6" fill="#1CADE4"/>
<circle cx="951.8" cy="1206.7" r="6.6" fill="#1CADE4"/>
<circle cx="991.2" cy="1214.2" r="6.6" fill="#1CADE4"/>
<circle cx="1030.7" cy="1172.4" r="6.6" fill="#1CADE4"/>
<circle cx="1070.2" cy="1243.5" r="6.6" fill="#1CADE4"/>
<circle cx="1109.7" cy="1159.0" r="6.6" fill="#1CADE4"/>
<circle cx="1149.2" cy="1207.7" r="6.6" fill="#1CADE4"/>
<circle cx="1228.1" cy="1181.4" r="6.6" fill="#1CADE4"/>
<circle cx="793.8" cy="1238.5" r="6.6" fill="#6F1041"/>
<circle cx="833.3" cy="1235.0" r="6.6" fill="#6F1041"/>
<circle cx="872.8" cy="1244.0" r="6.6" fill="#6F1041"/>
<circle cx="912.3" cy="1207.7" r="6.6" fill="#6F1041"/>
<circle cx="951.8" cy="1181.9" r="6.6" fill="#6F1041"/>
<circle cx="991.2" cy="1191.8" r="6.6" fill="#6F1041"/>
<circle cx="1030.7" cy="1181.9" r="6.6" fill="#6F1041"/>
<circle cx="1070.2" cy="1221.6" r="6.6" fill="#6F1041"/>
<circle cx="1109.7" cy="1184.4" r="6.6" fill="#6F1041"/>
<circle cx="1149.2" cy="1189.3" r="6.6" fill="#6F1041"/>
<circle cx="793.8" cy="1320.0" r="6.6" fill="#123F6F"/>
<circle cx="833.3" cy="1259.4" r="6.6" fill="#123F6F"/>
<circle cx="872.8" cy="1231.5" r="6.6" fill="#123F6F"/>
<circle cx="912.3" cy="1185.8" r="6.6" fill="#123F6F"/>
<circle cx="951.8" cy="1185.8" r="6.6" fill="#123F6F"/>
<circle cx="991.2" cy="1214.7" r="6.6" fill="#123F6F"/>
<circle cx="1030.7" cy="1175.9" r="6.6" fill="#123F6F"/>
<circle cx="1070.2" cy="1165.5" r="6.6" fill="#123F6F"/>
<circle cx="1109.7" cy="1205.7" r="6.6" fill="#123F6F"/>
<circle cx="1149.2" cy="1174.4" r="6.6" fill="#123F6F"/>
<circle cx="1188.6" cy="1195.8" r="6.6" fill="#123F6F"/>
<circle cx="1228.1" cy="1173.9" r="6.6" fill="#123F6F"/>
<polyline points="793.8,1278.5 833.3,1261.9 872.8,1234.4 912.3,1214.3 951.8,1205.7 991.2,1197.7 1030.7,1183.1 1070.2,1187.0 1109.7,1180.4 1149.2,1188.3 1188.6,1174.4 1228.1,1154.0" fill="none" stroke="#427730" stroke-width="3.4" stroke-linejoin="round" stroke-linecap="butt"/>
<polygon points="793.8,1706.8 833.3,1690.8 872.8,1650.3 912.3,1620.2 951.8,1634.8 991.2,1633.4 1030.7,1591.1 1070.2,1605.1 1109.7,1609.8 1149.2,1589.4 1188.6,1591.8 1228.1,1582.5 1228.1,1680.8 1188.6,1712.0 1149.2,1729.3 1109.7,1708.7 1070.2,1726.0 1030.7,1722.3 991.2,1726.5 951.8,1738.3 912.3,1753.6 872.8,1772.7 833.3,1799.1 793.8,1821.6" fill="#cbc9ca"/>
<polygon points="793.8,1735.5 833.3,1717.9 872.8,1680.9 912.3,1653.5 951.8,1660.7 991.2,1656.7 1030.7,1623.9 1070.2,1635.4 1109.7,1634.5 1149.2,1624.4 1188.6,1621.8 1228.1,1607.0 1228.1,1656.2 1188.6,1682.0 1149.2,1694.3 1109.7,1684.0 1070.2,1695.8 1030.7,1689.5 991.2,1703.3 951.8,1712.4 912.3,1720.2 872.8,1742.1 833.3,1772.0 793.8,1792.9" fill="#999798"/>
<circle cx="793.8" cy="1748.9" r="6.6" fill="#1CADE4"/>
<circle cx="833.3" cy="1714.0" r="6.6" fill="#1CADE4"/>
<circle cx="872.8" cy="1690.8" r="6.6" fill="#1CADE4"/>
<circle cx="912.3" cy="1706.6" r="6.6" fill="#1CADE4"/>
<circle cx="951.8" cy="1698.2" r="6.6" fill="#1CADE4"/>
<circle cx="991.2" cy="1689.8" r="6.6" fill="#1CADE4"/>
<circle cx="1030.7" cy="1604.6" r="6.6" fill="#1CADE4"/>
<circle cx="1070.2" cy="1683.4" r="6.6" fill="#1CADE4"/>
<circle cx="1109.7" cy="1692.8" r="6.6" fill="#1CADE4"/>
<circle cx="1149.2" cy="1661.8" r="6.6" fill="#1CADE4"/>
<circle cx="1188.6" cy="1685.4" r="6.6" fill="#1CADE4"/>
<circle cx="1228.1" cy="1644.5" r="6.6" fill="#1CADE4"/>
<circle cx="793.8" cy="1778.5" r="6.6" fill="#1CADE4"/>
<circle cx="833.3" cy="1796.7" r="6.6" fill="#1CADE4"/>
<circle cx="872.8" cy="1698.7" r="6.6" fill="#1CADE4"/>
<circle cx="912.3" cy="1669.6" r="6.6" fill="#1CADE4"/>
<circle cx="951.8" cy="1634.7" r="6.6" fill="#1CADE4"/>
<circle cx="991.2" cy="1648.9" r="6.6" fill="#1CADE4"/>
<circle cx="1030.7" cy="1682.9" r="6.6" fill="#1CADE4"/>
<circle cx="1070.2" cy="1678.5" r="6.6" fill="#1CADE4"/>
<circle cx="1109.7" cy="1648.0" r="6.6" fill="#1CADE4"/>
<circle cx="1149.2" cy="1705.1" r="6.6" fill="#1CADE4"/>
<circle cx="1188.6" cy="1650.9" r="6.6" fill="#1CADE4"/>
<circle cx="1228.1" cy="1610.0" r="6.6" fill="#1CADE4"/>
<circle cx="793.8" cy="1796.2" r="6.6" fill="#123F6F"/>
<circle cx="833.3" cy="1765.7" r="6.6" fill="#123F6F"/>
<circle cx="872.8" cy="1753.4" r="6.6" fill="#123F6F"/>
<circle cx="912.3" cy="1690.8" r="6.6" fill="#123F6F"/>
<circle cx="951.8" cy="1706.1" r="6.6" fill="#123F6F"/>
<circle cx="991.2" cy="1654.4" r="6.6" fill="#123F6F"/>
<circle cx="1030.7" cy="1617.9" r="6.6" fill="#123F6F"/>
<circle cx="1070.2" cy="1641.6" r="6.6" fill="#123F6F"/>
<circle cx="1109.7" cy="1630.7" r="6.6" fill="#123F6F"/>
<circle cx="1149.2" cy="1619.4" r="6.6" fill="#123F6F"/>
<circle cx="1188.6" cy="1667.7" r="6.6" fill="#123F6F"/>
<circle cx="793.8" cy="1781.9" r="6.6" fill="#1CADE4"/>
<circle cx="833.3" cy="1757.3" r="6.6" fill="#1CADE4"/>
<circle cx="872.8" cy="1744.0" r="6.6" fill="#1CADE4"/>
<circle cx="912.3" cy="1741.0" r="6.6" fill="#1CADE4"/>
<circle cx="951.8" cy="1709.5" r="6.6" fill="#1CADE4"/>
<circle cx="991.2" cy="1708.5" r="6.6" fill="#1CADE4"/>
<circle cx="1030.7" cy="1695.2" r="6.6" fill="#1CADE4"/>
<circle cx="1070.2" cy="1631.2" r="6.6" fill="#1CADE4"/>
<circle cx="1109.7" cy="1635.7" r="6.6" fill="#1CADE4"/>
<circle cx="1149.2" cy="1613.5" r="6.6" fill="#1CADE4"/>
<circle cx="1188.6" cy="1605.1" r="6.6" fill="#1CADE4"/>
<circle cx="1228.1" cy="1596.2" r="6.6" fill="#1CADE4"/>
<circle cx="793.8" cy="1719.4" r="6.6" fill="#123F6F"/>
<circle cx="833.3" cy="1739.1" r="6.6" fill="#123F6F"/>
<circle cx="872.8" cy="1689.8" r="6.6" fill="#123F6F"/>
<circle cx="912.3" cy="1649.9" r="6.6" fill="#123F6F"/>
<circle cx="951.8" cy="1706.1" r="6.6" fill="#123F6F"/>
<circle cx="991.2" cy="1655.4" r="6.6" fill="#123F6F"/>
<circle cx="1030.7" cy="1660.3" r="6.6" fill="#123F6F"/>
<circle cx="1070.2" cy="1645.5" r="6.6" fill="#123F6F"/>
<circle cx="1109.7" cy="1682.9" r="6.6" fill="#123F6F"/>
<circle cx="1149.2" cy="1699.7" r="6.6" fill="#123F6F"/>
<circle cx="793.8" cy="1758.8" r="6.6" fill="#1CADE4"/>
<circle cx="833.3" cy="1728.7" r="6.6" fill="#1CADE4"/>
<circle cx="872.8" cy="1739.1" r="6.6" fill="#1CADE4"/>
<circle cx="951.8" cy="1690.8" r="6.6" fill="#1CADE4"/>
<circle cx="991.2" cy="1699.7" r="6.6" fill="#1CADE4"/>
<circle cx="1030.7" cy="1689.3" r="6.6" fill="#1CADE4"/>
<circle cx="1070.2" cy="1681.0" r="6.6" fill="#1CADE4"/>
<circle cx="1109.7" cy="1664.2" r="6.6" fill="#1CADE4"/>
<circle cx="1149.2" cy="1638.6" r="6.6" fill="#1CADE4"/>
<circle cx="1188.6" cy="1629.2" r="6.6" fill="#1CADE4"/>
<circle cx="1228.1" cy="1628.8" r="6.6" fill="#1CADE4"/>
<circle cx="793.8" cy="1733.7" r="6.6" fill="#1CADE4"/>
<circle cx="833.3" cy="1721.8" r="6.6" fill="#1CADE4"/>
<circle cx="872.8" cy="1667.7" r="6.6" fill="#1CADE4"/>
<circle cx="951.8" cy="1683.9" r="6.6" fill="#1CADE4"/>
<circle cx="991.2" cy="1691.3" r="6.6" fill="#1CADE4"/>
<circle cx="1030.7" cy="1649.9" r="6.6" fill="#1CADE4"/>
<circle cx="1070.2" cy="1720.4" r="6.6" fill="#1CADE4"/>
<circle cx="1109.7" cy="1636.6" r="6.6" fill="#1CADE4"/>
<circle cx="1149.2" cy="1684.9" r="6.6" fill="#1CADE4"/>
<circle cx="1228.1" cy="1658.8" r="6.6" fill="#1CADE4"/>
<circle cx="793.8" cy="1796.2" r="6.6" fill="#123F6F"/>
<circle cx="833.3" cy="1736.1" r="6.6" fill="#123F6F"/>
<circle cx="872.8" cy="1708.5" r="6.6" fill="#123F6F"/>
<circle cx="912.3" cy="1663.2" r="6.6" fill="#123F6F"/>
<circle cx="951.8" cy="1663.2" r="6.6" fill="#123F6F"/>
<circle cx="991.2" cy="1691.8" r="6.6" fill="#123F6F"/>
<circle cx="1030.7" cy="1653.4" r="6.6" fill="#123F6F"/>
<circle cx="1070.2" cy="1643.0" r="6.6" fill="#123F6F"/>
<circle cx="1109.7" cy="1682.9" r="6.6" fill="#123F6F"/>
<circle cx="1149.2" cy="1651.9" r="6.6" fill="#123F6F"/>
<circle cx="1188.6" cy="1673.1" r="6.6" fill="#123F6F"/>
<circle cx="1228.1" cy="1651.4" r="6.6" fill="#123F6F"/>
<polyline points="793.8,1764.2 833.3,1744.9 872.8,1711.5 912.3,1686.9 951.8,1686.6 991.2,1680.0 1030.7,1656.7 1070.2,1665.6 1109.7,1659.2 1149.2,1659.4 1188.6,1651.9 1228.1,1631.6" fill="none" stroke="#427730" stroke-width="3.4" stroke-linejoin="round" stroke-linecap="butt"/>
<circle cx="151.8" cy="1708.5" r="6.6" fill="#6F1041"/>
<circle cx="191.3" cy="1705.2" r="6.6" fill="#6F1041"/>
<circle cx="230.8" cy="1713.8" r="6.6" fill="#6F1041"/>
<circle cx="270.3" cy="1678.9" r="6.6" fill="#6F1041"/>
<circle cx="309.8" cy="1654.0" r="6.6" fill="#6F1041"/>
<circle cx="349.2" cy="1663.6" r="6.6" fill="#6F1041"/>
<circle cx="388.7" cy="1654.0" r="6.6" fill="#6F1041"/>
<circle cx="428.2" cy="1692.3" r="6.6" fill="#6F1041"/>
<circle cx="467.7" cy="1656.4" r="6.6" fill="#6F1041"/>
<circle cx="507.2" cy="1661.2" r="6.6" fill="#6F1041"/>
<circle cx="151.8" cy="1714.8" r="6.6" fill="#6F1041"/>
<circle cx="191.3" cy="1707.6" r="6.6" fill="#6F1041"/>
<circle cx="230.8" cy="1694.7" r="6.6" fill="#6F1041"/>
<circle cx="270.3" cy="1718.1" r="6.6" fill="#6F1041"/>
<circle cx="309.8" cy="1671.7" r="6.6" fill="#6F1041"/>
<circle cx="349.2" cy="1635.9" r="6.6" fill="#6F1041"/>
<circle cx="388.7" cy="1686.1" r="6.6" fill="#6F1041"/>
<circle cx="428.2" cy="1616.8" r="6.6" fill="#6F1041"/>
<circle cx="467.7" cy="1638.3" r="6.6" fill="#6F1041"/>
<circle cx="507.2" cy="1708.5" r="6.6" fill="#6F1041"/>
<polyline points="151.8,1711.6 191.3,1706.4 230.8,1704.2 270.3,1698.5 309.8,1662.9 349.2,1649.7 388.7,1670.1 428.2,1654.5 467.7,1647.4 507.2,1684.9" fill="none" stroke="#427730" stroke-width="3.4" stroke-linejoin="round" stroke-linecap="butt"/>
<path d="M114.2 33.0V402.6H630.6" fill="none" stroke="#000" stroke-width="3.6" stroke-linecap="butt" stroke-linejoin="miter"/>
<line x1="137.2" x2="137.2" y1="404.3" y2="410.8" stroke="#333" stroke-width="3.6"/>
<text x="137.2" y="436.2" class="tk" text-anchor="middle">0</text>
<line x1="215.4" x2="215.4" y1="404.3" y2="410.8" stroke="#333" stroke-width="3.6"/>
<text x="215.4" y="436.2" class="tk" text-anchor="middle">2</text>
<line x1="293.8" x2="293.8" y1="404.3" y2="410.8" stroke="#333" stroke-width="3.6"/>
<text x="293.8" y="436.2" class="tk" text-anchor="middle">4</text>
<line x1="372.0" x2="372.0" y1="404.3" y2="410.8" stroke="#333" stroke-width="3.6"/>
<text x="372.0" y="436.2" class="tk" text-anchor="middle">6</text>
<line x1="450.4" x2="450.4" y1="404.3" y2="410.8" stroke="#333" stroke-width="3.6"/>
<text x="450.4" y="436.2" class="tk" text-anchor="middle">8</text>
<line x1="528.6" x2="528.6" y1="404.3" y2="410.8" stroke="#333" stroke-width="3.6"/>
<text x="528.6" y="436.2" class="tk" text-anchor="middle">10</text>
<line x1="606.9" x2="606.9" y1="404.3" y2="410.8" stroke="#333" stroke-width="3.6"/>
<text x="606.9" y="436.2" class="tk" text-anchor="middle">12</text>
<line x1="106.0" x2="112.5" y1="385.8" y2="385.8" stroke="#333" stroke-width="3.6"/>
<text x="99.9" y="395.0" class="tk" text-anchor="end">20</text>
<line x1="106.0" x2="112.5" y1="302.0" y2="302.0" stroke="#333" stroke-width="3.6"/>
<text x="99.9" y="311.2" class="tk" text-anchor="end">25</text>
<line x1="106.0" x2="112.5" y1="218.2" y2="218.2" stroke="#333" stroke-width="3.6"/>
<text x="99.9" y="227.4" class="tk" text-anchor="end">30</text>
<line x1="106.0" x2="112.5" y1="134.4" y2="134.4" stroke="#333" stroke-width="3.6"/>
<text x="99.9" y="143.6" class="tk" text-anchor="end">35</text>
<line x1="106.0" x2="112.5" y1="50.6" y2="50.6" stroke="#333" stroke-width="3.6"/>
<text x="99.9" y="59.8" class="tk" text-anchor="end">40</text>
<text x="372.4" y="472.2" class="at" text-anchor="middle">Age (kyr BP)</text>
<text transform="translate(51.3 428.0) rotate(-90)" class="at sy">δ</text>
<text transform="translate(35.2 407.3) rotate(-90)" class="at sp">18</text>
<text transform="translate(51.3 374.2) rotate(-90)" class="at">O</text>
<text transform="translate(56.7 348.6) rotate(-90)" class="at ss">diatom</text>
<text transform="translate(51.3 254.2) rotate(-90)" class="at" letter-spacing="0.27">(permil VSMOW</text>
<text x="124.2" y="58.4" class="lb">(a)</text>
<text x="390.5" y="63.0" class="tt" text-anchor="middle">Original records</text>
<text x="125" y="139.0" class="nn">N = 21</text>
<path d="M756.2 33.0V402.6H1272.6" fill="none" stroke="#000" stroke-width="3.6" stroke-linecap="butt" stroke-linejoin="miter"/>
<line x1="779.1" x2="779.1" y1="404.3" y2="410.8" stroke="#333" stroke-width="3.6"/>
<text x="779.1" y="436.2" class="tk" text-anchor="middle">0</text>
<line x1="857.4" x2="857.4" y1="404.3" y2="410.8" stroke="#333" stroke-width="3.6"/>
<text x="857.4" y="436.2" class="tk" text-anchor="middle">2</text>
<line x1="935.8" x2="935.8" y1="404.3" y2="410.8" stroke="#333" stroke-width="3.6"/>
<text x="935.8" y="436.2" class="tk" text-anchor="middle">4</text>
<line x1="1014.0" x2="1014.0" y1="404.3" y2="410.8" stroke="#333" stroke-width="3.6"/>
<text x="1014.0" y="436.2" class="tk" text-anchor="middle">6</text>
<line x1="1092.3" x2="1092.3" y1="404.3" y2="410.8" stroke="#333" stroke-width="3.6"/>
<text x="1092.3" y="436.2" class="tk" text-anchor="middle">8</text>
<line x1="1170.7" x2="1170.7" y1="404.3" y2="410.8" stroke="#333" stroke-width="3.6"/>
<text x="1170.7" y="436.2" class="tk" text-anchor="middle">10</text>
<line x1="1248.9" x2="1248.9" y1="404.3" y2="410.8" stroke="#333" stroke-width="3.6"/>
<text x="1248.9" y="436.2" class="tk" text-anchor="middle">12</text>
<line x1="748.0" x2="754.5" y1="385.8" y2="385.8" stroke="#333" stroke-width="3.6"/>
<text x="741.9" y="395.0" class="tk" text-anchor="end">20</text>
<line x1="748.0" x2="754.5" y1="302.0" y2="302.0" stroke="#333" stroke-width="3.6"/>
<text x="741.9" y="311.2" class="tk" text-anchor="end">25</text>
<line x1="748.0" x2="754.5" y1="218.2" y2="218.2" stroke="#333" stroke-width="3.6"/>
<text x="741.9" y="227.4" class="tk" text-anchor="end">30</text>
<line x1="748.0" x2="754.5" y1="134.4" y2="134.4" stroke="#333" stroke-width="3.6"/>
<text x="741.9" y="143.6" class="tk" text-anchor="end">35</text>
<line x1="748.0" x2="754.5" y1="50.6" y2="50.6" stroke="#333" stroke-width="3.6"/>
<text x="741.9" y="59.8" class="tk" text-anchor="end">40</text>
<text x="1014.4" y="472.2" class="at" text-anchor="middle">Age (kyr BP)</text>
<text transform="translate(693.3 428.0) rotate(-90)" class="at sy">δ</text>
<text transform="translate(677.2 407.3) rotate(-90)" class="at sp">18</text>
<text transform="translate(693.3 374.2) rotate(-90)" class="at">O</text>
<text transform="translate(698.7 348.6) rotate(-90)" class="at ss">diatom</text>
<text transform="translate(693.3 254.2) rotate(-90)" class="at" letter-spacing="0.27">(permil VSMOW</text>
<text x="768.2" y="58.4" class="lb">(b)</text>
<text x="1016" y="63.0" class="tt" text-anchor="middle">1-kyr binning</text>
<text x="767" y="139.0" class="nn">N = 14</text>
<path d="M108.05 512.1V881.8H630.6" fill="none" stroke="#000" stroke-width="3.6" stroke-linecap="butt" stroke-linejoin="miter"/>
<line x1="132.1" x2="132.1" y1="883.5" y2="890.0" stroke="#333" stroke-width="3.6"/>
<text x="132.1" y="915.4" class="tk" text-anchor="middle">0</text>
<line x1="211.1" x2="211.1" y1="883.5" y2="890.0" stroke="#333" stroke-width="3.6"/>
<text x="211.1" y="915.4" class="tk" text-anchor="middle">2</text>
<line x1="290.0" x2="290.0" y1="883.5" y2="890.0" stroke="#333" stroke-width="3.6"/>
<text x="290.0" y="915.4" class="tk" text-anchor="middle">4</text>
<line x1="369.0" x2="369.0" y1="883.5" y2="890.0" stroke="#333" stroke-width="3.6"/>
<text x="369.0" y="915.4" class="tk" text-anchor="middle">6</text>
<line x1="447.9" x2="447.9" y1="883.5" y2="890.0" stroke="#333" stroke-width="3.6"/>
<text x="447.9" y="915.4" class="tk" text-anchor="middle">8</text>
<line x1="526.9" x2="526.9" y1="883.5" y2="890.0" stroke="#333" stroke-width="3.6"/>
<text x="526.9" y="915.4" class="tk" text-anchor="middle">10</text>
<line x1="605.9" x2="605.9" y1="883.5" y2="890.0" stroke="#333" stroke-width="3.6"/>
<text x="605.9" y="915.4" class="tk" text-anchor="middle">12</text>
<line x1="99.8" x2="106.3" y1="849.9" y2="849.9" stroke="#333" stroke-width="3.6"/>
<text x="93.8" y="859.1" class="tk" text-anchor="end">-2</text>
<line x1="99.8" x2="106.3" y1="743.2" y2="743.2" stroke="#333" stroke-width="3.6"/>
<text x="93.8" y="752.5" class="tk" text-anchor="end">0</text>
<line x1="99.8" x2="106.3" y1="636.6" y2="636.6" stroke="#333" stroke-width="3.6"/>
<text x="93.8" y="645.9" class="tk" text-anchor="end">2</text>
<line x1="99.8" x2="106.3" y1="530.0" y2="530.0" stroke="#333" stroke-width="3.6"/>
<text x="93.8" y="539.2" class="tk" text-anchor="end">4</text>
<text x="369.3" y="951.4" class="at" text-anchor="middle">Age (kyr BP)</text>
<text transform="translate(51.3 907.0) rotate(-90)" class="at sy">Δ</text>
<text transform="translate(35.2 884.1) rotate(-90)" class="at sp">18</text>
<text transform="translate(51.3 853.3) rotate(-90)" class="at">O</text>
<text transform="translate(56.7 827.8) rotate(-90)" class="at ss">diatom</text>
<text transform="translate(51.3 733.3) rotate(-90)" class="at" letter-spacing="0.27">(permil VSMOW)</text>
<text x="124.4" y="539.0" class="lb">(c)</text>
<text x="375" y="543.6" class="tt" text-anchor="middle">Mean removed</text>
<text x="118" y="618.1" class="nn">N = 14</text>
<path d="M750.05 512.1V881.8H1272.6" fill="none" stroke="#000" stroke-width="3.6" stroke-linecap="butt" stroke-linejoin="miter"/>
<line x1="774.1" x2="774.1" y1="883.5" y2="890.0" stroke="#333" stroke-width="3.6"/>
<text x="774.1" y="915.4" class="tk" text-anchor="middle">0</text>
<line x1="853.1" x2="853.1" y1="883.5" y2="890.0" stroke="#333" stroke-width="3.6"/>
<text x="853.1" y="915.4" class="tk" text-anchor="middle">2</text>
<line x1="932.0" x2="932.0" y1="883.5" y2="890.0" stroke="#333" stroke-width="3.6"/>
<text x="932.0" y="915.4" class="tk" text-anchor="middle">4</text>
<line x1="1011.0" x2="1011.0" y1="883.5" y2="890.0" stroke="#333" stroke-width="3.6"/>
<text x="1011.0" y="915.4" class="tk" text-anchor="middle">6</text>
<line x1="1089.9" x2="1089.9" y1="883.5" y2="890.0" stroke="#333" stroke-width="3.6"/>
<text x="1089.9" y="915.4" class="tk" text-anchor="middle">8</text>
<line x1="1168.9" x2="1168.9" y1="883.5" y2="890.0" stroke="#333" stroke-width="3.6"/>
<text x="1168.9" y="915.4" class="tk" text-anchor="middle">10</text>
<line x1="1247.9" x2="1247.9" y1="883.5" y2="890.0" stroke="#333" stroke-width="3.6"/>
<text x="1247.9" y="915.4" class="tk" text-anchor="middle">12</text>
<line x1="741.8" x2="748.3" y1="849.9" y2="849.9" stroke="#333" stroke-width="3.6"/>
<text x="735.8" y="859.1" class="tk" text-anchor="end">-2</text>
<line x1="741.8" x2="748.3" y1="743.2" y2="743.2" stroke="#333" stroke-width="3.6"/>
<text x="735.8" y="752.5" class="tk" text-anchor="end">0</text>
<line x1="741.8" x2="748.3" y1="636.6" y2="636.6" stroke="#333" stroke-width="3.6"/>
<text x="735.8" y="645.9" class="tk" text-anchor="end">2</text>
<line x1="741.8" x2="748.3" y1="530.0" y2="530.0" stroke="#333" stroke-width="3.6"/>
<text x="735.8" y="539.2" class="tk" text-anchor="end">4</text>
<text x="1011.3" y="951.4" class="at" text-anchor="middle">Age (kyr BP)</text>
<text transform="translate(693.3 907.0) rotate(-90)" class="at sy">Δ</text>
<text transform="translate(677.2 884.1) rotate(-90)" class="at sp">18</text>
<text transform="translate(693.3 853.3) rotate(-90)" class="at">O</text>
<text transform="translate(698.7 827.8) rotate(-90)" class="at ss">diatom</text>
<text transform="translate(693.3 733.3) rotate(-90)" class="at" letter-spacing="0.27">(permil VSMOW)</text>
<text x="766.4" y="539.0" class="lb">(d)</text>
<text x="1002" y="543.6" class="tt" text-anchor="middle">Open lakes</text>
<text x="760" y="618.1" class="nn">N = 13</text>
<path d="M108.05 990.9V1360.5H630.6" fill="none" stroke="#000" stroke-width="3.6" stroke-linecap="butt" stroke-linejoin="miter"/>
<line x1="132.1" x2="132.1" y1="1362.2" y2="1368.7" stroke="#333" stroke-width="3.6"/>
<text x="132.1" y="1394.1" class="tk" text-anchor="middle">0</text>
<line x1="211.1" x2="211.1" y1="1362.2" y2="1368.7" stroke="#333" stroke-width="3.6"/>
<text x="211.1" y="1394.1" class="tk" text-anchor="middle">2</text>
<line x1="290.0" x2="290.0" y1="1362.2" y2="1368.7" stroke="#333" stroke-width="3.6"/>
<text x="290.0" y="1394.1" class="tk" text-anchor="middle">4</text>
<line x1="369.0" x2="369.0" y1="1362.2" y2="1368.7" stroke="#333" stroke-width="3.6"/>
<text x="369.0" y="1394.1" class="tk" text-anchor="middle">6</text>
<line x1="447.9" x2="447.9" y1="1362.2" y2="1368.7" stroke="#333" stroke-width="3.6"/>
<text x="447.9" y="1394.1" class="tk" text-anchor="middle">8</text>
<line x1="526.9" x2="526.9" y1="1362.2" y2="1368.7" stroke="#333" stroke-width="3.6"/>
<text x="526.9" y="1394.1" class="tk" text-anchor="middle">10</text>
<line x1="605.9" x2="605.9" y1="1362.2" y2="1368.7" stroke="#333" stroke-width="3.6"/>
<text x="605.9" y="1394.1" class="tk" text-anchor="middle">12</text>
<line x1="99.8" x2="106.3" y1="1328.6" y2="1328.6" stroke="#333" stroke-width="3.6"/>
<text x="93.8" y="1337.8" class="tk" text-anchor="end">-2</text>
<line x1="99.8" x2="106.3" y1="1222.0" y2="1222.0" stroke="#333" stroke-width="3.6"/>
<text x="93.8" y="1231.2" class="tk" text-anchor="end">0</text>
<line x1="99.8" x2="106.3" y1="1115.4" y2="1115.4" stroke="#333" stroke-width="3.6"/>
<text x="93.8" y="1124.6" class="tk" text-anchor="end">2</text>
<line x1="99.8" x2="106.3" y1="1008.8" y2="1008.8" stroke="#333" stroke-width="3.6"/>
<text x="93.8" y="1018.0" class="tk" text-anchor="end">4</text>
<text x="369.3" y="1430.1" class="at" text-anchor="middle">Age (kyr BP)</text>
<text transform="translate(51.3 1385.8) rotate(-90)" class="at sy">Δ</text>
<text transform="translate(35.2 1362.9) rotate(-90)" class="at sp">18</text>
<text transform="translate(51.3 1332.1) rotate(-90)" class="at">O</text>
<text transform="translate(56.7 1306.5) rotate(-90)" class="at ss">diatom</text>
<text transform="translate(51.3 1212.1) rotate(-90)" class="at" letter-spacing="0.27">(permil VSMOW)</text>
<text x="124.4" y="1016.3" class="lb">(e)</text>
<text x="118" y="1096.9" class="nn">N = 10</text>
<path d="M750.05 990.9V1360.5H1272.6" fill="none" stroke="#000" stroke-width="3.6" stroke-linecap="butt" stroke-linejoin="miter"/>
<line x1="774.1" x2="774.1" y1="1362.2" y2="1368.7" stroke="#333" stroke-width="3.6"/>
<text x="774.1" y="1394.1" class="tk" text-anchor="middle">0</text>
<line x1="853.1" x2="853.1" y1="1362.2" y2="1368.7" stroke="#333" stroke-width="3.6"/>
<text x="853.1" y="1394.1" class="tk" text-anchor="middle">2</text>
<line x1="932.0" x2="932.0" y1="1362.2" y2="1368.7" stroke="#333" stroke-width="3.6"/>
<text x="932.0" y="1394.1" class="tk" text-anchor="middle">4</text>
<line x1="1011.0" x2="1011.0" y1="1362.2" y2="1368.7" stroke="#333" stroke-width="3.6"/>
<text x="1011.0" y="1394.1" class="tk" text-anchor="middle">6</text>
<line x1="1089.9" x2="1089.9" y1="1362.2" y2="1368.7" stroke="#333" stroke-width="3.6"/>
<text x="1089.9" y="1394.1" class="tk" text-anchor="middle">8</text>
<line x1="1168.9" x2="1168.9" y1="1362.2" y2="1368.7" stroke="#333" stroke-width="3.6"/>
<text x="1168.9" y="1394.1" class="tk" text-anchor="middle">10</text>
<line x1="1247.9" x2="1247.9" y1="1362.2" y2="1368.7" stroke="#333" stroke-width="3.6"/>
<text x="1247.9" y="1394.1" class="tk" text-anchor="middle">12</text>
<line x1="741.8" x2="748.3" y1="1307.1" y2="1307.1" stroke="#333" stroke-width="3.6"/>
<text x="735.8" y="1316.3" class="tk" text-anchor="end">-2</text>
<line x1="741.8" x2="748.3" y1="1207.7" y2="1207.7" stroke="#333" stroke-width="3.6"/>
<text x="735.8" y="1216.9" class="tk" text-anchor="end">0</text>
<line x1="741.8" x2="748.3" y1="1108.3" y2="1108.3" stroke="#333" stroke-width="3.6"/>
<text x="735.8" y="1117.5" class="tk" text-anchor="end">2</text>
<line x1="741.8" x2="748.3" y1="1009.0" y2="1009.0" stroke="#333" stroke-width="3.6"/>
<text x="735.8" y="1018.2" class="tk" text-anchor="end">4</text>
<text x="1011.3" y="1430.1" class="at" text-anchor="middle">Age (kyr BP)</text>
<text transform="translate(693.3 1385.8) rotate(-90)" class="at sy">Δ</text>
<text transform="translate(677.2 1362.9) rotate(-90)" class="at sp">18</text>
<text transform="translate(693.3 1332.1) rotate(-90)" class="at">O</text>
<text transform="translate(698.7 1306.5) rotate(-90)" class="at ss">diatom</text>
<text transform="translate(693.3 1212.1) rotate(-90)" class="at" letter-spacing="0.27">(permil VSMOW)</text>
<text x="766.4" y="1016.3" class="lb">(f)</text>
<text x="1024" y="1020.9" class="tt" text-anchor="middle">NH Trend</text>
<text x="760" y="1096.9" class="nn">N = 10</text>
<path d="M108.05 1470.4V1840.0H630.6" fill="none" stroke="#000" stroke-width="3.6" stroke-linecap="butt" stroke-linejoin="miter"/>
<line x1="132.1" x2="132.1" y1="1841.7" y2="1848.2" stroke="#333" stroke-width="3.6"/>
<text x="132.1" y="1873.6" class="tk" text-anchor="middle">0</text>
<line x1="211.1" x2="211.1" y1="1841.7" y2="1848.2" stroke="#333" stroke-width="3.6"/>
<text x="211.1" y="1873.6" class="tk" text-anchor="middle">2</text>
<line x1="290.0" x2="290.0" y1="1841.7" y2="1848.2" stroke="#333" stroke-width="3.6"/>
<text x="290.0" y="1873.6" class="tk" text-anchor="middle">4</text>
<line x1="369.0" x2="369.0" y1="1841.7" y2="1848.2" stroke="#333" stroke-width="3.6"/>
<text x="369.0" y="1873.6" class="tk" text-anchor="middle">6</text>
<line x1="447.9" x2="447.9" y1="1841.7" y2="1848.2" stroke="#333" stroke-width="3.6"/>
<text x="447.9" y="1873.6" class="tk" text-anchor="middle">8</text>
<line x1="526.9" x2="526.9" y1="1841.7" y2="1848.2" stroke="#333" stroke-width="3.6"/>
<text x="526.9" y="1873.6" class="tk" text-anchor="middle">10</text>
<line x1="605.9" x2="605.9" y1="1841.7" y2="1848.2" stroke="#333" stroke-width="3.6"/>
<text x="605.9" y="1873.6" class="tk" text-anchor="middle">12</text>
<line x1="99.8" x2="106.3" y1="1822.3" y2="1822.3" stroke="#333" stroke-width="3.6"/>
<text x="93.8" y="1831.5" class="tk" text-anchor="end">-3</text>
<line x1="99.8" x2="106.3" y1="1774.5" y2="1774.5" stroke="#333" stroke-width="3.6"/>
<text x="93.8" y="1783.7" class="tk" text-anchor="end">-2</text>
<line x1="99.8" x2="106.3" y1="1726.7" y2="1726.7" stroke="#333" stroke-width="3.6"/>
<text x="93.8" y="1735.9" class="tk" text-anchor="end">-1</text>
<line x1="99.8" x2="106.3" y1="1678.9" y2="1678.9" stroke="#333" stroke-width="3.6"/>
<text x="93.8" y="1688.1" class="tk" text-anchor="end">0</text>
<line x1="99.8" x2="106.3" y1="1631.1" y2="1631.1" stroke="#333" stroke-width="3.6"/>
<text x="93.8" y="1640.3" class="tk" text-anchor="end">1</text>
<line x1="99.8" x2="106.3" y1="1583.3" y2="1583.3" stroke="#333" stroke-width="3.6"/>
<text x="93.8" y="1592.5" class="tk" text-anchor="end">2</text>
<line x1="99.8" x2="106.3" y1="1535.5" y2="1535.5" stroke="#333" stroke-width="3.6"/>
<text x="93.8" y="1544.7" class="tk" text-anchor="end">3</text>
<line x1="99.8" x2="106.3" y1="1487.7" y2="1487.7" stroke="#333" stroke-width="3.6"/>
<text x="93.8" y="1496.9" class="tk" text-anchor="end">4</text>
<text x="369.3" y="1909.6" class="at" text-anchor="middle">Age (kyr BP)</text>
<text transform="translate(51.3 1865.3) rotate(-90)" class="at sy">Δ</text>
<text transform="translate(35.2 1842.4) rotate(-90)" class="at sp">18</text>
<text transform="translate(51.3 1811.6) rotate(-90)" class="at">O</text>
<text transform="translate(56.7 1786.0) rotate(-90)" class="at ss">diatom</text>
<text transform="translate(51.3 1691.6) rotate(-90)" class="at" letter-spacing="0.27">(permil VSMOW)</text>
<text x="124.4" y="1495.8" class="lb">(g)</text>
<text x="375" y="1500.4" class="tt" text-anchor="middle">North American Trend</text>
<text x="118" y="1576.4" class="nn">N = 2</text>
<path d="M750.05 1470.4V1840.0H1272.6" fill="none" stroke="#000" stroke-width="3.6" stroke-linecap="butt" stroke-linejoin="miter"/>
<line x1="774.1" x2="774.1" y1="1841.7" y2="1848.2" stroke="#333" stroke-width="3.6"/>
<text x="774.1" y="1873.6" class="tk" text-anchor="middle">0</text>
<line x1="853.1" x2="853.1" y1="1841.7" y2="1848.2" stroke="#333" stroke-width="3.6"/>
<text x="853.1" y="1873.6" class="tk" text-anchor="middle">2</text>
<line x1="932.0" x2="932.0" y1="1841.7" y2="1848.2" stroke="#333" stroke-width="3.6"/>
<text x="932.0" y="1873.6" class="tk" text-anchor="middle">4</text>
<line x1="1011.0" x2="1011.0" y1="1841.7" y2="1848.2" stroke="#333" stroke-width="3.6"/>
<text x="1011.0" y="1873.6" class="tk" text-anchor="middle">6</text>
<line x1="1089.9" x2="1089.9" y1="1841.7" y2="1848.2" stroke="#333" stroke-width="3.6"/>
<text x="1089.9" y="1873.6" class="tk" text-anchor="middle">8</text>
<line x1="1168.9" x2="1168.9" y1="1841.7" y2="1848.2" stroke="#333" stroke-width="3.6"/>
<text x="1168.9" y="1873.6" class="tk" text-anchor="middle">10</text>
<line x1="1247.9" x2="1247.9" y1="1841.7" y2="1848.2" stroke="#333" stroke-width="3.6"/>
<text x="1247.9" y="1873.6" class="tk" text-anchor="middle">12</text>
<line x1="741.8" x2="748.3" y1="1783.4" y2="1783.4" stroke="#333" stroke-width="3.6"/>
<text x="735.8" y="1792.6" class="tk" text-anchor="end">-2</text>
<line x1="741.8" x2="748.3" y1="1684.9" y2="1684.9" stroke="#333" stroke-width="3.6"/>
<text x="735.8" y="1694.1" class="tk" text-anchor="end">0</text>
<line x1="741.8" x2="748.3" y1="1586.4" y2="1586.4" stroke="#333" stroke-width="3.6"/>
<text x="735.8" y="1595.6" class="tk" text-anchor="end">2</text>
<line x1="741.8" x2="748.3" y1="1487.9" y2="1487.9" stroke="#333" stroke-width="3.6"/>
<text x="735.8" y="1497.1" class="tk" text-anchor="end">4</text>
<text x="1011.3" y="1909.6" class="at" text-anchor="middle">Age (kyr BP)</text>
<text transform="translate(693.3 1865.3) rotate(-90)" class="at sy">Δ</text>
<text transform="translate(677.2 1842.4) rotate(-90)" class="at sp">18</text>
<text transform="translate(693.3 1811.6) rotate(-90)" class="at">O</text>
<text transform="translate(698.7 1786.0) rotate(-90)" class="at ss">diatom</text>
<text transform="translate(693.3 1691.6) rotate(-90)" class="at" letter-spacing="0.27">(permil VSMOW)</text>
<text x="766.4" y="1495.8" class="lb">(h)</text>
<text x="1002" y="1500.4" class="tt" text-anchor="middle">Eurasian Trend</text>
<text x="760" y="1576.4" class="nn">N = 8</text>
<text x="265" y="1020.9" class="tt">t</text>
<text x="287.5" y="1036.1" class="tt" style="font-size:27px">res</text>
<text x="329" y="1020.9" class="tt">&lt; 100 yrs</text>
<line x1="259" x2="299.5" y1="1975" y2="1975" stroke="#1CADE4" stroke-width="3.4"/>
<circle cx="279.25" cy="1975" r="6.6" fill="#1CADE4"/>
<text x="319.5" y="1984.0" class="lg">Asia</text>
<line x1="390" x2="431" y1="1975" y2="1975" stroke="#123F6F" stroke-width="3.4"/>
<circle cx="410.5" cy="1975" r="6.6" fill="#123F6F"/>
<text x="450.2" y="1984.0" class="lg">Europe</text>
<line x1="557" x2="597.5" y1="1975" y2="1975" stroke="#427730" stroke-width="3.4"/>
<circle cx="577.25" cy="1975" r="6.6" fill="#427730"/>
<text x="616.2" y="1984.0" class="lg">Holocene Trend</text>
<line x1="826" x2="866.5" y1="1975" y2="1975" stroke="#6F1041" stroke-width="3.4"/>
<circle cx="846.25" cy="1975" r="6.6" fill="#6F1041"/>
<text x="885.2" y="1984.0" class="lg">North America</text>
</svg>
</body></html>
